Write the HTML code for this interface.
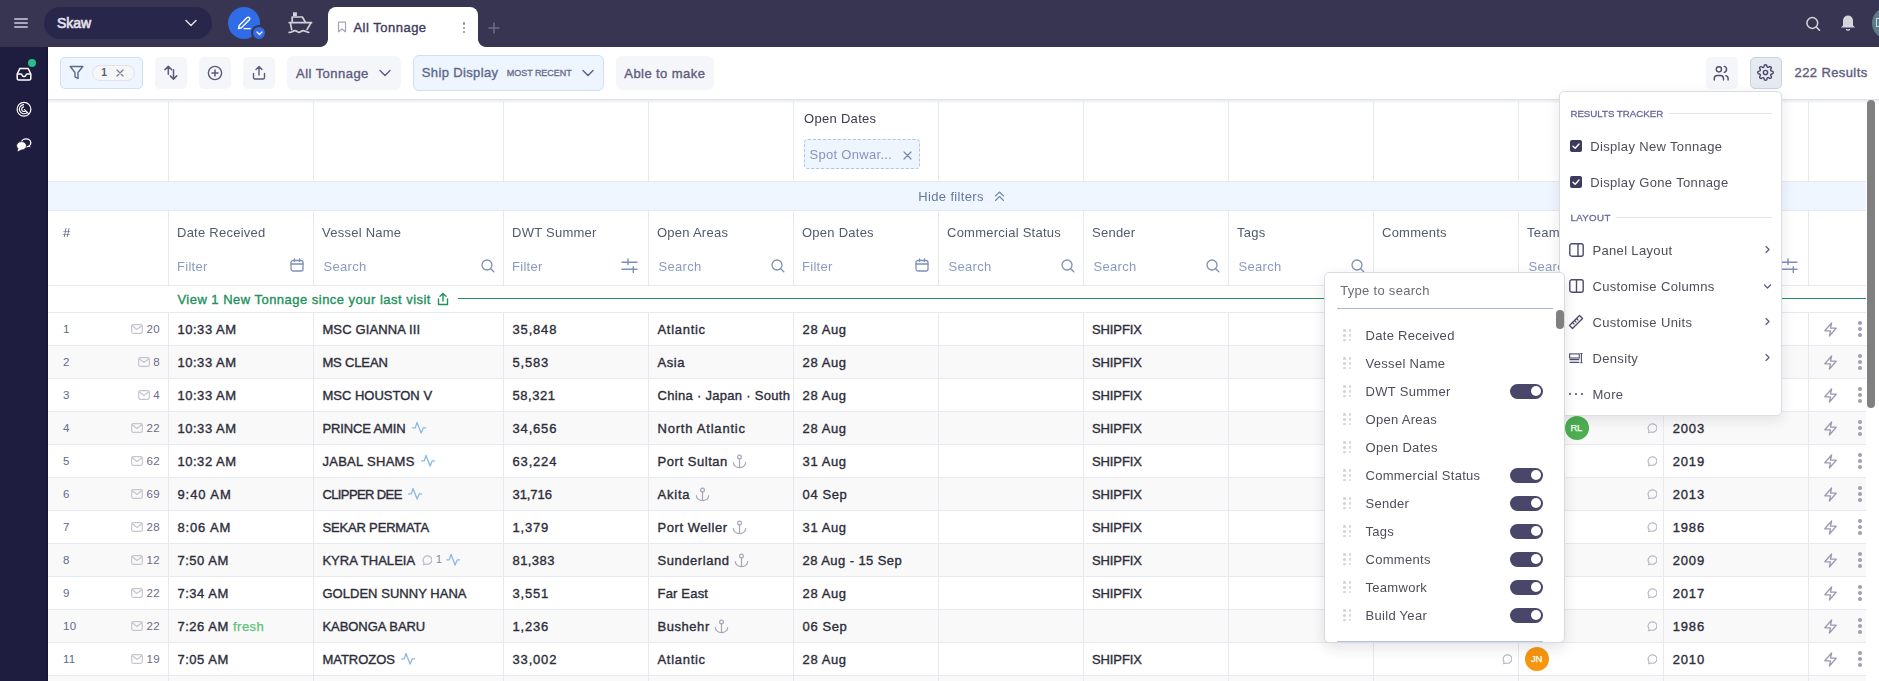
<!DOCTYPE html><html><head><meta charset="utf-8"><style>
html,body{margin:0;padding:0;}
body{width:1879px;height:681px;overflow:hidden;position:relative;background:#fff;font-family:"Liberation Sans", sans-serif;}
.t{position:absolute;white-space:nowrap;}
</style></head><body>
<div style="position:absolute;left:0px;top:0px;width:1879px;height:47px;background:#383552"></div>
<div style="position:absolute;left:14px;top:18px;width:14px;height:2px;background:#a9a7bb;border-radius:1px"></div>
<div style="position:absolute;left:14px;top:22px;width:14px;height:2px;background:#a9a7bb;border-radius:1px"></div>
<div style="position:absolute;left:14px;top:26px;width:14px;height:2px;background:#a9a7bb;border-radius:1px"></div>
<div style="position:absolute;left:44px;top:7px;width:168px;height:32px;background:#28264a;border-radius:16px"></div>
<div class="t" style="left:57px;top:16.35px;font-size:14px;line-height:14px;font-weight:400;color:#e2e2ea;letter-spacing:-0.05px;-webkit-text-stroke:0.65px #e2e2ea;">Skaw</div>
<svg style="position:absolute;left:185px;top:19px;" width="12" height="8" viewBox="0 0 12 8" fill="none"><path d="M1 1.5 L6 6.5 L11 1.5" stroke="#e0e0e8" stroke-width="1.5" stroke-linecap="round" stroke-linejoin="round"/></svg>
<div style="position:absolute;left:228px;top:7px;width:32px;height:32px;background:#2f6ce5;border-radius:50%"></div>
<svg style="position:absolute;left:236px;top:15px;" width="16" height="16" viewBox="0 0 16 16" fill="none"><path d="M2.5 13.5 L3.2 10.6 L11.2 2.6 a1.4 1.4 0 0 1 2 0 l0.2 0.2 a1.4 1.4 0 0 1 0 2 L5.4 12.8 Z" stroke="#fff" stroke-width="1.4" stroke-linejoin="round"/><path d="M8 13.6 L14.3 13.6" stroke="#fff" stroke-width="1.3" stroke-linecap="round"/></svg>
<div style="position:absolute;left:251px;top:25px;width:16px;height:16px;background:#2f6ce5;border-radius:50%;border:2px solid #383552;box-sizing:border-box"></div>
<svg style="position:absolute;left:255.5px;top:31px;" width="7" height="5" viewBox="0 0 7 5" fill="none"><path d="M1 1 L3.5 3.5 L6 1" stroke="#fff" stroke-width="1.2" stroke-linecap="round" stroke-linejoin="round"/></svg>
<svg style="position:absolute;left:284px;top:8px;" width="32" height="30" viewBox="0 0 32 30" fill="none"><rect x="9" y="4.3" width="3.9" height="3.9" fill="#d2d2da"/><path d="M8.2 14.3 L8.2 9 L18.4 9 L21.4 14.3" stroke="#d2d2da" stroke-width="1.7" stroke-linejoin="round"/><path d="M5.2 14.6 L27.6 14.6 M6.3 14.6 L7.7 21.6 M27 14.6 L23 21.6" stroke="#d2d2da" stroke-width="1.7" stroke-linecap="round" stroke-linejoin="round"/><path d="M5.2 24.4 C8 24.4 9 22.6 11 22.6 C13 22.6 13.5 24.4 15 24.4 C16.5 24.4 17.5 22.6 19.3 22.6 C21 22.6 22 24.3 24.8 24.3" stroke="#d2d2da" stroke-width="1.7" stroke-linecap="round"/></svg>
<div style="position:absolute;left:328px;top:7px;width:150px;height:41px;background:#fff;border-radius:8px 8px 0 0"></div>
<div style="position:absolute;left:320px;top:39px;width:8px;height:8px;background:radial-gradient(circle at 0 0, #383552 7.5px, #fff 8.3px)"></div>
<div style="position:absolute;left:478px;top:39px;width:8px;height:8px;background:radial-gradient(circle at 100% 0, #383552 7.5px, #fff 8.3px)"></div>
<svg style="position:absolute;left:337px;top:21px;" width="10" height="12" viewBox="0 0 10 12" fill="none"><path d="M1.5 1.2 L8.5 1.2 L8.5 10.8 L5 8 L1.5 10.8 Z" stroke="#a4a4b6" stroke-width="1.2" stroke-linejoin="round"/></svg>
<div class="t" style="left:353.4px;top:21.20px;font-size:13px;line-height:13px;font-weight:400;color:#3d3b5c;letter-spacing:0.5px;-webkit-text-stroke:0.36px #3d3b5c;">All Tonnage</div>
<div style="position:absolute;left:462.8px;top:22.3px;width:2.5px;height:2.5px;background:#7d8fb5;border-radius:50%"></div>
<div style="position:absolute;left:462.8px;top:26.6px;width:2.5px;height:2.5px;background:#7d8fb5;border-radius:50%"></div>
<div style="position:absolute;left:462.8px;top:30.900000000000002px;width:2.5px;height:2.5px;background:#7d8fb5;border-radius:50%"></div>
<svg style="position:absolute;left:488px;top:22px;" width="12" height="12" viewBox="0 0 12 12" fill="none"><path d="M6 1 L6 11 M1 6 L11 6" stroke="#6e6c88" stroke-width="1.5" stroke-linecap="round"/></svg>
<svg style="position:absolute;left:1804px;top:15px;" width="18" height="18" viewBox="0 0 18 18" fill="none"><circle cx="8.3" cy="8" r="5.4" stroke="#d6d6de" stroke-width="1.5"/><path d="M12.3 12 L15.5 15.2" stroke="#d6d6de" stroke-width="1.6" stroke-linecap="round"/></svg>
<svg style="position:absolute;left:1840px;top:13.2px;" width="16" height="18" viewBox="0 0 16 18" fill="none"><path d="M3 12.5 L3 7.5 a5 5 0 0 1 10 0 L13 12.5 L15 14.5 L1 14.5 Z" fill="#d4d4dc"/><path d="M6.3 16 a1.8 1.8 0 0 0 3.4 0" stroke="#d4d4dc" stroke-width="1.2"/></svg>
<div style="position:absolute;left:1872px;top:7px;width:32px;height:32px;background:#5e7b87;border-radius:50%"></div>
<div style="position:absolute;left:1876px;top:18px;width:6px;height:9px;border:1.5px solid #bfe0ee;border-right:none;box-sizing:border-box"></div>
<div style="position:absolute;left:0px;top:47px;width:48px;height:634px;background:#1e1d40"></div>
<div style="position:absolute;left:46px;top:47px;width:2px;height:634px;background:#18173a"></div>
<svg style="position:absolute;left:16px;top:67px;" width="17" height="15" viewBox="0 0 17 15" fill="none"><path d="M1.2 7 L3.8 1.6 L12.2 1.6 L14.8 7 L14.8 11.6 Q14.8 12.9 13.5 12.9 L2.5 12.9 Q1.2 12.9 1.2 11.6 Z" stroke="#fff" stroke-width="1.5" stroke-linejoin="round"/><path d="M1.2 7 L4.8 7 Q5.6 7 6 7.8 L6.4 8.6 Q6.8 9.4 7.6 9.4 L8.4 9.4 Q9.2 9.4 9.6 8.6 L10 7.8 Q10.4 7 11.2 7 L14.8 7" stroke="#fff" stroke-width="1.5" stroke-linejoin="round"/></svg>
<div style="position:absolute;left:28px;top:59px;width:8px;height:8px;background:#27bd8b;border-radius:50%"></div>
<svg style="position:absolute;left:15px;top:100px;" width="18" height="18" viewBox="0 0 18 18" fill="none"><circle cx="9" cy="9.2" r="6.9" stroke="#fff" stroke-width="1.2"/><path d="M9 4.6 A4.6 4.6 0 1 0 12.3 12.4" stroke="#fff" stroke-width="1.1"/><path d="M9 6.9 A2.3 2.3 0 1 0 10.6 10.8" stroke="#fff" stroke-width="1.1"/><path d="M9 9.2 L13.8 13.9" stroke="#fff" stroke-width="1.1"/></svg>
<svg style="position:absolute;left:15px;top:136px;" width="18" height="17" viewBox="0 0 18 17" fill="none"><ellipse cx="11.1" cy="6.8" rx="4.7" ry="4" stroke="#fff" stroke-width="1.3"/><path d="M14.2 9.6 L15.8 11.2 L12.6 10.6" fill="#fff"/><ellipse cx="6.5" cy="9.8" rx="4.9" ry="4.2" fill="#fff" stroke="#1e1d40" stroke-width="0.8"/><path d="M3.2 12.6 L2.6 15.6 L6.6 13.6 Z" fill="#fff"/></svg>
<div style="position:absolute;left:48px;top:99px;width:1831px;height:1px;background:#e0e3ea"></div>
<div style="position:absolute;left:48px;top:100px;width:1831px;height:3px;background:linear-gradient(#e8ebf0,#fafbfc)"></div>
<div style="position:absolute;left:60px;top:57px;width:83px;height:32px;background:#eef5fe;border:1px solid #cfe0f6;border-radius:5px;box-sizing:border-box"></div>
<svg style="position:absolute;left:69px;top:65px;" width="15" height="15" viewBox="0 0 15 15" fill="none"><path d="M1.2 1.5 L13.8 1.5 L9 7.5 L9 13.5 L6 11.8 L6 7.5 Z" stroke="#5d6b88" stroke-width="1.4" stroke-linejoin="round"/></svg>
<div style="position:absolute;left:92px;top:65px;width:43px;height:16px;background:#f6f6f9;border:1px solid #e2e2e8;border-radius:8px;box-sizing:border-box"></div>
<div class="t" style="left:101.2px;top:68.08px;font-size:10.3px;line-height:10.3px;font-weight:700;color:#5c5c78;letter-spacing:0px;">1</div>
<svg style="position:absolute;left:116px;top:69px;" width="8" height="8" viewBox="0 0 8 8" fill="none"><path d="M1 1 L7 7 M7 1 L1 7" stroke="#7a7a92" stroke-width="1.2" stroke-linecap="round"/></svg>
<div style="position:absolute;left:155px;top:57px;width:32px;height:32px;background:#f5f6fa;border-radius:5px"></div>
<div style="position:absolute;left:199px;top:57px;width:32px;height:32px;background:#f5f6fa;border-radius:5px"></div>
<div style="position:absolute;left:243px;top:57px;width:32px;height:32px;background:#f5f6fa;border-radius:5px"></div>
<svg style="position:absolute;left:160px;top:64px;" width="20" height="18" viewBox="0 0 20 18" fill="none"><path d="M8.3 10.3 L8.3 2.4 M5 5.6 L8.3 2.3 L11.6 5.6" stroke="#5a5a7a" stroke-width="1.5" stroke-linecap="round" stroke-linejoin="round"/><path d="M13.5 5.8 L13.5 15.1 M10.3 11.9 L13.5 15.1 L16.7 11.9" stroke="#5a5a7a" stroke-width="1.5" stroke-linecap="round" stroke-linejoin="round"/></svg>
<svg style="position:absolute;left:207px;top:65px;" width="16" height="16" viewBox="0 0 16 16" fill="none"><circle cx="8" cy="8" r="6.6" stroke="#5a5a7a" stroke-width="1.4"/><path d="M8 5 L8 11 M5 8 L11 8" stroke="#5a5a7a" stroke-width="1.5" stroke-linecap="round"/></svg>
<svg style="position:absolute;left:251px;top:65px;" width="16" height="16" viewBox="0 0 16 16" fill="none"><path d="M2.5 8.5 L2.5 12.5 Q2.5 14 4 14 L12 14 Q13.5 14 13.5 12.5 L13.5 8.5" stroke="#5a5a7a" stroke-width="1.4" stroke-linecap="round" stroke-linejoin="round"/><path d="M8 10 L8 1.5 M5 4.5 L8 1.5 L11 4.5" stroke="#5a5a7a" stroke-width="1.4" stroke-linecap="round" stroke-linejoin="round"/></svg>
<div style="position:absolute;left:287px;top:56px;width:114px;height:34px;background:#f5f6fa;border-radius:6px"></div>
<div class="t" style="left:296px;top:67.00px;font-size:13px;line-height:13px;font-weight:400;color:#5e5c7e;letter-spacing:0.46px;-webkit-text-stroke:0.36px #5e5c7e;">All Tonnage</div>
<svg style="position:absolute;left:379px;top:69px;" width="12" height="8" viewBox="0 0 12 8" fill="none"><path d="M1 1.5 L6 6.5 L11 1.5" stroke="#5e5c7e" stroke-width="1.4" stroke-linecap="round" stroke-linejoin="round"/></svg>
<div style="position:absolute;left:413px;top:55px;width:191px;height:36px;background:#eef5fe;border:1px solid #cfe0f6;border-radius:6px;box-sizing:border-box"></div>
<div class="t" style="left:421.8px;top:65.70px;font-size:13px;line-height:13px;font-weight:400;color:#5d6a8c;letter-spacing:0.36px;-webkit-text-stroke:0.36px #5d6a8c;">Ship Display</div>
<div class="t" style="left:506.8px;top:69.48px;font-size:9px;line-height:9px;font-weight:400;color:#6b6a88;letter-spacing:-0.05px;-webkit-text-stroke:0.3px #6b6a88;">MOST RECENT</div>
<svg style="position:absolute;left:582px;top:69px;" width="12" height="8" viewBox="0 0 12 8" fill="none"><path d="M1 1.5 L6 6.5 L11 1.5" stroke="#5e5c7e" stroke-width="1.4" stroke-linecap="round" stroke-linejoin="round"/></svg>
<div style="position:absolute;left:616px;top:56px;width:98px;height:34px;background:#f5f6fa;border-radius:6px"></div>
<div class="t" style="left:624.3px;top:67.00px;font-size:13px;line-height:13px;font-weight:400;color:#5e5c7e;letter-spacing:0.43px;-webkit-text-stroke:0.36px #5e5c7e;">Able to make</div>
<div style="position:absolute;left:1706px;top:57px;width:32px;height:32px;background:#f5f6fa;border-radius:5px"></div>
<svg style="position:absolute;left:1712px;top:63.6px" width="18.4" height="18.4" viewBox="0 0 24 24" fill="none" stroke="#4f4d70" stroke-width="1.85" stroke-linecap="round" stroke-linejoin="round"><circle cx="9" cy="7" r="3.4"/><path d="M3 21v-2a4 4 0 0 1 4 -4h4a4 4 0 0 1 4 4v2"/><path d="M16 3.13a4 4 0 0 1 0 7.75"/><path d="M21 21v-2a4 4 0 0 0 -3 -3.85"/></svg>
<div style="position:absolute;left:1750px;top:57px;width:32px;height:32px;background:#e7eaf0;border:1px solid #cad3e0;border-radius:5px;box-sizing:border-box"></div>
<svg style="position:absolute;left:1757px;top:64.2px" width="17" height="17" viewBox="0 0 24 24" fill="none" stroke="#4a4868" stroke-width="2" stroke-linecap="round" stroke-linejoin="round"><circle cx="12" cy="12" r="3"/><path d="M19.4 15a1.65 1.65 0 0 0 .33 1.82l.06.06a2 2 0 0 1 0 2.83 2 2 0 0 1-2.83 0l-.06-.06a1.65 1.65 0 0 0-1.82-.33 1.65 1.65 0 0 0-1 1.51V21a2 2 0 0 1-2 2 2 2 0 0 1-2-2v-.09A1.65 1.65 0 0 0 9 19.4a1.65 1.65 0 0 0-1.82.33l-.06.06a2 2 0 0 1-2.83 0 2 2 0 0 1 0-2.83l.06-.06a1.65 1.65 0 0 0 .33-1.82 1.65 1.65 0 0 0-1.51-1H3a2 2 0 0 1-2-2 2 2 0 0 1 2-2h.09A1.65 1.65 0 0 0 4.6 9a1.65 1.65 0 0 0-.33-1.82l-.06-.06a2 2 0 0 1 0-2.83 2 2 0 0 1 2.83 0l.06.06a1.65 1.65 0 0 0 1.82.33H9a1.65 1.65 0 0 0 1-1.51V3a2 2 0 0 1 2-2 2 2 0 0 1 2 2v.09a1.65 1.65 0 0 0 1 1.51 1.65 1.65 0 0 0 1.82-.33l.06-.06a2 2 0 0 1 2.83 0 2 2 0 0 1 0 2.83l-.06.06a1.65 1.65 0 0 0-.33 1.82V9a1.65 1.65 0 0 0 1.51 1H21a2 2 0 0 1 2 2 2 2 0 0 1-2 2h-.09a1.65 1.65 0 0 0-1.51 1z"/></svg>
<div class="t" style="left:1794.6px;top:66.20px;font-size:13px;line-height:13px;font-weight:400;color:#5e5c7e;letter-spacing:0.39px;-webkit-text-stroke:0.36px #5e5c7e;">222 Results</div>
<div style="position:absolute;left:48px;top:345px;width:1818px;height:33px;background:#f9f9f9"></div>
<div style="position:absolute;left:48px;top:411px;width:1818px;height:33px;background:#f9f9f9"></div>
<div style="position:absolute;left:48px;top:477px;width:1818px;height:33px;background:#f9f9f9"></div>
<div style="position:absolute;left:48px;top:543px;width:1818px;height:33px;background:#f9f9f9"></div>
<div style="position:absolute;left:48px;top:609px;width:1818px;height:33px;background:#f9f9f9"></div>
<div style="position:absolute;left:48px;top:675px;width:1818px;height:33px;background:#f9f9f9"></div>
<div style="position:absolute;left:48px;top:181px;width:1818px;height:1px;background:#e6e9ef"></div>
<div style="position:absolute;left:48px;top:182px;width:1818px;height:28px;background:#eff6ff"></div>
<div style="position:absolute;left:48px;top:210px;width:1818px;height:1px;background:#e6e9ef"></div>
<div style="position:absolute;left:48px;top:285px;width:1818px;height:1px;background:#e6e9ef"></div>
<div style="position:absolute;left:48px;top:312px;width:1818px;height:1px;background:#e6e9ef"></div>
<div style="position:absolute;left:48px;top:345px;width:1818px;height:1px;background:#e6e9ef"></div>
<div style="position:absolute;left:48px;top:378px;width:1818px;height:1px;background:#e6e9ef"></div>
<div style="position:absolute;left:48px;top:411px;width:1818px;height:1px;background:#e6e9ef"></div>
<div style="position:absolute;left:48px;top:444px;width:1818px;height:1px;background:#e6e9ef"></div>
<div style="position:absolute;left:48px;top:477px;width:1818px;height:1px;background:#e6e9ef"></div>
<div style="position:absolute;left:48px;top:510px;width:1818px;height:1px;background:#e6e9ef"></div>
<div style="position:absolute;left:48px;top:543px;width:1818px;height:1px;background:#e6e9ef"></div>
<div style="position:absolute;left:48px;top:576px;width:1818px;height:1px;background:#e6e9ef"></div>
<div style="position:absolute;left:48px;top:609px;width:1818px;height:1px;background:#e6e9ef"></div>
<div style="position:absolute;left:48px;top:642px;width:1818px;height:1px;background:#e6e9ef"></div>
<div style="position:absolute;left:48px;top:675px;width:1818px;height:1px;background:#e6e9ef"></div>
<div style="position:absolute;left:168px;top:99px;width:1px;height:82px;background:#e6e9ef"></div>
<div style="position:absolute;left:168px;top:211px;width:1px;height:470px;background:#e6e9ef"></div>
<div style="position:absolute;left:313px;top:99px;width:1px;height:82px;background:#e6e9ef"></div>
<div style="position:absolute;left:313px;top:211px;width:1px;height:470px;background:#e6e9ef"></div>
<div style="position:absolute;left:503px;top:99px;width:1px;height:82px;background:#e6e9ef"></div>
<div style="position:absolute;left:503px;top:211px;width:1px;height:470px;background:#e6e9ef"></div>
<div style="position:absolute;left:648px;top:99px;width:1px;height:82px;background:#e6e9ef"></div>
<div style="position:absolute;left:648px;top:211px;width:1px;height:470px;background:#e6e9ef"></div>
<div style="position:absolute;left:793px;top:99px;width:1px;height:82px;background:#e6e9ef"></div>
<div style="position:absolute;left:793px;top:211px;width:1px;height:470px;background:#e6e9ef"></div>
<div style="position:absolute;left:938px;top:99px;width:1px;height:82px;background:#e6e9ef"></div>
<div style="position:absolute;left:938px;top:211px;width:1px;height:470px;background:#e6e9ef"></div>
<div style="position:absolute;left:1083px;top:99px;width:1px;height:82px;background:#e6e9ef"></div>
<div style="position:absolute;left:1083px;top:211px;width:1px;height:470px;background:#e6e9ef"></div>
<div style="position:absolute;left:1228px;top:99px;width:1px;height:82px;background:#e6e9ef"></div>
<div style="position:absolute;left:1228px;top:211px;width:1px;height:470px;background:#e6e9ef"></div>
<div style="position:absolute;left:1373px;top:99px;width:1px;height:82px;background:#e6e9ef"></div>
<div style="position:absolute;left:1373px;top:211px;width:1px;height:470px;background:#e6e9ef"></div>
<div style="position:absolute;left:1518px;top:99px;width:1px;height:82px;background:#e6e9ef"></div>
<div style="position:absolute;left:1518px;top:211px;width:1px;height:470px;background:#e6e9ef"></div>
<div style="position:absolute;left:1663px;top:99px;width:1px;height:82px;background:#e6e9ef"></div>
<div style="position:absolute;left:1663px;top:211px;width:1px;height:470px;background:#e6e9ef"></div>
<div style="position:absolute;left:1808px;top:99px;width:1px;height:82px;background:#e6e9ef"></div>
<div style="position:absolute;left:1808px;top:211px;width:1px;height:470px;background:#e6e9ef"></div>
<div style="position:absolute;left:48px;top:286px;width:1818px;height:26px;background:#fff"></div>
<div style="position:absolute;left:0;top:0;width:1879px;height:285px;will-change:transform">
<div class="t" style="left:804px;top:111.80px;font-size:13px;line-height:13px;font-weight:400;color:#3b3a4e;letter-spacing:0.3px;">Open Dates</div>
<div style="position:absolute;left:804px;top:139px;width:116px;height:30px;background:#eef5fd;border:1px dashed #a9c7ea;border-radius:4px;box-sizing:border-box"></div>
<div class="t" style="left:809.5px;top:147.80px;font-size:13px;line-height:13px;font-weight:400;color:#8496bd;letter-spacing:0.3px;">Spot Onwar...</div>
<svg style="position:absolute;left:903px;top:151px;" width="9" height="9" viewBox="0 0 9 9" fill="none"><path d="M1 1 L8 8 M8 1 L1 8" stroke="#7888ad" stroke-width="1.2" stroke-linecap="round"/></svg>
<div class="t" style="left:918.3px;top:189.80px;font-size:13px;line-height:13px;font-weight:400;color:#6478a0;letter-spacing:0.35px;">Hide filters</div>
<svg style="position:absolute;left:994px;top:190px;" width="11" height="12" viewBox="0 0 11 12" fill="none"><path d="M1.5 6 L5.5 2 L9.5 6 M1.5 10.5 L5.5 6.5 L9.5 10.5" stroke="#7487ab" stroke-width="1.1" stroke-linecap="round" stroke-linejoin="round"/></svg>
<div class="t" style="left:63px;top:226.30px;font-size:13px;line-height:13px;font-weight:400;color:#525b6b;letter-spacing:0.25px;">#</div>
<div class="t" style="left:177px;top:226.30px;font-size:13px;line-height:13px;font-weight:400;color:#525b6b;letter-spacing:0.25px;">Date Received</div>
<div class="t" style="left:322px;top:226.30px;font-size:13px;line-height:13px;font-weight:400;color:#525b6b;letter-spacing:0.25px;">Vessel Name</div>
<div class="t" style="left:512px;top:226.30px;font-size:13px;line-height:13px;font-weight:400;color:#525b6b;letter-spacing:0.25px;">DWT Summer</div>
<div class="t" style="left:657px;top:226.30px;font-size:13px;line-height:13px;font-weight:400;color:#525b6b;letter-spacing:0.25px;">Open Areas</div>
<div class="t" style="left:802px;top:226.30px;font-size:13px;line-height:13px;font-weight:400;color:#525b6b;letter-spacing:0.25px;">Open Dates</div>
<div class="t" style="left:947px;top:226.30px;font-size:13px;line-height:13px;font-weight:400;color:#525b6b;letter-spacing:0.25px;">Commercial Status</div>
<div class="t" style="left:1092px;top:226.30px;font-size:13px;line-height:13px;font-weight:400;color:#525b6b;letter-spacing:0.25px;">Sender</div>
<div class="t" style="left:1237px;top:226.30px;font-size:13px;line-height:13px;font-weight:400;color:#525b6b;letter-spacing:0.25px;">Tags</div>
<div class="t" style="left:1382px;top:226.30px;font-size:13px;line-height:13px;font-weight:400;color:#525b6b;letter-spacing:0.25px;">Comments</div>
<div class="t" style="left:1527px;top:226.30px;font-size:13px;line-height:13px;font-weight:400;color:#525b6b;letter-spacing:0.25px;">Teamwork</div>
<div class="t" style="left:1672px;top:226.30px;font-size:13px;line-height:13px;font-weight:400;color:#525b6b;letter-spacing:0.25px;">Build Year</div>
<div class="t" style="left:177px;top:260.30px;font-size:13px;line-height:13px;font-weight:400;color:#8b9bc0;letter-spacing:0.3px;">Filter</div>
<svg style="position:absolute;left:290px;top:257.6px;" width="14" height="14" viewBox="0 0 14 14" fill="none"><rect x="1" y="2.5" width="12" height="10.5" rx="2" stroke="#7f90b6" stroke-width="1.3"/><path d="M1 6 L13 6 M4.5 1 L4.5 3.5 M9.5 1 L9.5 3.5" stroke="#7f90b6" stroke-width="1.3" stroke-linecap="round"/></svg>
<div class="t" style="left:323.5px;top:259.70px;font-size:13px;line-height:13px;font-weight:400;color:#8b9bc0;letter-spacing:0.3px;">Search</div>
<svg style="position:absolute;left:481px;top:259px;" width="14" height="14" viewBox="0 0 14 14" fill="none"><circle cx="6" cy="6" r="5" stroke="#7f90b6" stroke-width="1.3"/><path d="M9.7 9.7 L12.8 12.8" stroke="#7f90b6" stroke-width="1.3" stroke-linecap="round"/></svg>
<div class="t" style="left:512px;top:260.30px;font-size:13px;line-height:13px;font-weight:400;color:#8b9bc0;letter-spacing:0.3px;">Filter</div>
<svg style="position:absolute;left:621px;top:258px;" width="17" height="15" viewBox="0 0 17 15" fill="none"><path d="M1 4.3 L16 4.3 M1 11.2 L16 11.2 M7 1 L7 6.5 M12.3 8.8 L12.3 14.4" stroke="#7f90b6" stroke-width="1.4" stroke-linecap="round"/></svg>
<div class="t" style="left:658.5px;top:259.70px;font-size:13px;line-height:13px;font-weight:400;color:#8b9bc0;letter-spacing:0.3px;">Search</div>
<svg style="position:absolute;left:771px;top:259px;" width="14" height="14" viewBox="0 0 14 14" fill="none"><circle cx="6" cy="6" r="5" stroke="#7f90b6" stroke-width="1.3"/><path d="M9.7 9.7 L12.8 12.8" stroke="#7f90b6" stroke-width="1.3" stroke-linecap="round"/></svg>
<div class="t" style="left:802px;top:260.30px;font-size:13px;line-height:13px;font-weight:400;color:#8b9bc0;letter-spacing:0.3px;">Filter</div>
<svg style="position:absolute;left:915px;top:257.6px;" width="14" height="14" viewBox="0 0 14 14" fill="none"><rect x="1" y="2.5" width="12" height="10.5" rx="2" stroke="#7f90b6" stroke-width="1.3"/><path d="M1 6 L13 6 M4.5 1 L4.5 3.5 M9.5 1 L9.5 3.5" stroke="#7f90b6" stroke-width="1.3" stroke-linecap="round"/></svg>
<div class="t" style="left:948.5px;top:259.70px;font-size:13px;line-height:13px;font-weight:400;color:#8b9bc0;letter-spacing:0.3px;">Search</div>
<svg style="position:absolute;left:1061px;top:259px;" width="14" height="14" viewBox="0 0 14 14" fill="none"><circle cx="6" cy="6" r="5" stroke="#7f90b6" stroke-width="1.3"/><path d="M9.7 9.7 L12.8 12.8" stroke="#7f90b6" stroke-width="1.3" stroke-linecap="round"/></svg>
<div class="t" style="left:1093.5px;top:259.70px;font-size:13px;line-height:13px;font-weight:400;color:#8b9bc0;letter-spacing:0.3px;">Search</div>
<svg style="position:absolute;left:1206px;top:259px;" width="14" height="14" viewBox="0 0 14 14" fill="none"><circle cx="6" cy="6" r="5" stroke="#7f90b6" stroke-width="1.3"/><path d="M9.7 9.7 L12.8 12.8" stroke="#7f90b6" stroke-width="1.3" stroke-linecap="round"/></svg>
<div class="t" style="left:1238.5px;top:259.70px;font-size:13px;line-height:13px;font-weight:400;color:#8b9bc0;letter-spacing:0.3px;">Search</div>
<svg style="position:absolute;left:1351px;top:259px;" width="14" height="14" viewBox="0 0 14 14" fill="none"><circle cx="6" cy="6" r="5" stroke="#7f90b6" stroke-width="1.3"/><path d="M9.7 9.7 L12.8 12.8" stroke="#7f90b6" stroke-width="1.3" stroke-linecap="round"/></svg>
<div class="t" style="left:1528.5px;top:259.70px;font-size:13px;line-height:13px;font-weight:400;color:#8b9bc0;letter-spacing:0.3px;">Search</div>
<svg style="position:absolute;left:1641px;top:259px;" width="14" height="14" viewBox="0 0 14 14" fill="none"><circle cx="6" cy="6" r="5" stroke="#7f90b6" stroke-width="1.3"/><path d="M9.7 9.7 L12.8 12.8" stroke="#7f90b6" stroke-width="1.3" stroke-linecap="round"/></svg>
<div class="t" style="left:1672px;top:260.30px;font-size:13px;line-height:13px;font-weight:400;color:#8b9bc0;letter-spacing:0.3px;">Filter</div>
<svg style="position:absolute;left:1781px;top:258px;" width="17" height="15" viewBox="0 0 17 15" fill="none"><path d="M1 4.3 L16 4.3 M1 11.2 L16 11.2 M7 1 L7 6.5 M12.3 8.8 L12.3 14.4" stroke="#7f90b6" stroke-width="1.4" stroke-linecap="round"/></svg>
</div>
<div class="t" style="left:177.4px;top:292.90px;font-size:13px;line-height:13px;font-weight:400;color:#23915c;letter-spacing:0.48px;-webkit-text-stroke:0.36px #23915c;">View 1 New Tonnage since your last visit</div>
<svg style="position:absolute;left:437px;top:292px;" width="12" height="14" viewBox="0 0 12 14" fill="none"><path d="M1.5 7 L1.5 12.5 L10.5 12.5 L10.5 7" stroke="#23915c" stroke-width="1.4" stroke-linecap="round" stroke-linejoin="round"/><path d="M6 9 L6 1.5 M3 4.3 L6 1.5 L9 4.3" stroke="#23915c" stroke-width="1.4" stroke-linecap="round" stroke-linejoin="round"/></svg>
<div style="position:absolute;left:458px;top:298px;width:1408px;height:1.3px;background:#23915c"></div>
<div class="t" style="left:63px;top:324.27px;font-size:11.5px;line-height:11.5px;font-weight:400;color:#5e6b8b;letter-spacing:0px;">1</div>
<div class="t" style="left:146.41875px;top:324.27px;font-size:11.5px;line-height:11.5px;font-weight:400;color:#6a6a85;letter-spacing:0.4px;">20</div>
<svg style="position:absolute;left:131.41875px;top:324.3px;" width="12" height="10" viewBox="0 0 12 10" fill="none"><rect x="0.7" y="0.7" width="10.6" height="8.6" rx="1.5" stroke="#c5c5d0" stroke-width="1.2"/><path d="M1 1.5 L6 5.5 L11 1.5" stroke="#c5c5d0" stroke-width="1.2" stroke-linejoin="round"/></svg>
<div class="t" style="left:177.4px;top:322.60px;font-size:13px;line-height:13px;font-weight:400;color:#2d2d3a;letter-spacing:0.55px;-webkit-text-stroke:0.36px #2d2d3a;">10:33 AM</div>
<div class="t" style="left:322.4px;top:322.60px;font-size:13px;line-height:13px;font-weight:400;color:#2d2d3a;letter-spacing:0.13px;-webkit-text-stroke:0.36px #2d2d3a;">MSC GIANNA III</div>
<div class="t" style="left:512.6px;top:322.60px;font-size:13px;line-height:13px;font-weight:400;color:#2d2d3a;letter-spacing:0.8px;-webkit-text-stroke:0.36px #2d2d3a;">35,848</div>
<div style="position:absolute;left:648px;top:312px;width:145px;height:33px;overflow:hidden">
<div class="t" style="left:9.5px;top:10.60px;font-size:13px;line-height:13px;font-weight:400;color:#2d2d3a;letter-spacing:0.7px;-webkit-text-stroke:0.36px #2d2d3a;">Atlantic</div>
</div>
<div class="t" style="left:802.6px;top:322.60px;font-size:13px;line-height:13px;font-weight:400;color:#2d2d3a;letter-spacing:0.6px;-webkit-text-stroke:0.36px #2d2d3a;">28 Aug</div>
<div class="t" style="left:1092px;top:322.60px;font-size:13px;line-height:13px;font-weight:400;color:#2d2d3a;letter-spacing:-0.1px;-webkit-text-stroke:0.36px #2d2d3a;">SHIPFIX</div>
<svg style="position:absolute;left:1645.8px;top:323.5px;" width="11" height="11" viewBox="0 0 11 11" fill="none"><path d="M2.6 9.8 L3 7.6 A4.4 4.2 0 1 1 5 9 Z" stroke="#b5b5c6" stroke-width="1.1" stroke-linejoin="round"/></svg>
<div class="t" style="left:63px;top:357.27px;font-size:11.5px;line-height:11.5px;font-weight:400;color:#5e6b8b;letter-spacing:0px;">2</div>
<div class="t" style="left:153.209375px;top:357.27px;font-size:11.5px;line-height:11.5px;font-weight:400;color:#6a6a85;letter-spacing:0.4px;">8</div>
<svg style="position:absolute;left:138.209375px;top:357.3px;" width="12" height="10" viewBox="0 0 12 10" fill="none"><rect x="0.7" y="0.7" width="10.6" height="8.6" rx="1.5" stroke="#c5c5d0" stroke-width="1.2"/><path d="M1 1.5 L6 5.5 L11 1.5" stroke="#c5c5d0" stroke-width="1.2" stroke-linejoin="round"/></svg>
<div class="t" style="left:177.4px;top:355.60px;font-size:13px;line-height:13px;font-weight:400;color:#2d2d3a;letter-spacing:0.55px;-webkit-text-stroke:0.36px #2d2d3a;">10:33 AM</div>
<div class="t" style="left:322.4px;top:355.60px;font-size:13px;line-height:13px;font-weight:400;color:#2d2d3a;letter-spacing:-0.15px;-webkit-text-stroke:0.36px #2d2d3a;">MS CLEAN</div>
<div class="t" style="left:512.6px;top:355.60px;font-size:13px;line-height:13px;font-weight:400;color:#2d2d3a;letter-spacing:0.8px;-webkit-text-stroke:0.36px #2d2d3a;">5,583</div>
<div style="position:absolute;left:648px;top:345px;width:145px;height:33px;overflow:hidden">
<div class="t" style="left:9.5px;top:10.60px;font-size:13px;line-height:13px;font-weight:400;color:#2d2d3a;letter-spacing:0.55px;-webkit-text-stroke:0.36px #2d2d3a;">Asia</div>
</div>
<div class="t" style="left:802.6px;top:355.60px;font-size:13px;line-height:13px;font-weight:400;color:#2d2d3a;letter-spacing:0.6px;-webkit-text-stroke:0.36px #2d2d3a;">28 Aug</div>
<div class="t" style="left:1092px;top:355.60px;font-size:13px;line-height:13px;font-weight:400;color:#2d2d3a;letter-spacing:-0.1px;-webkit-text-stroke:0.36px #2d2d3a;">SHIPFIX</div>
<svg style="position:absolute;left:1645.8px;top:356.5px;" width="11" height="11" viewBox="0 0 11 11" fill="none"><path d="M2.6 9.8 L3 7.6 A4.4 4.2 0 1 1 5 9 Z" stroke="#b5b5c6" stroke-width="1.1" stroke-linejoin="round"/></svg>
<div class="t" style="left:63px;top:390.27px;font-size:11.5px;line-height:11.5px;font-weight:400;color:#5e6b8b;letter-spacing:0px;">3</div>
<div class="t" style="left:153.209375px;top:390.27px;font-size:11.5px;line-height:11.5px;font-weight:400;color:#6a6a85;letter-spacing:0.4px;">4</div>
<svg style="position:absolute;left:138.209375px;top:390.3px;" width="12" height="10" viewBox="0 0 12 10" fill="none"><rect x="0.7" y="0.7" width="10.6" height="8.6" rx="1.5" stroke="#c5c5d0" stroke-width="1.2"/><path d="M1 1.5 L6 5.5 L11 1.5" stroke="#c5c5d0" stroke-width="1.2" stroke-linejoin="round"/></svg>
<div class="t" style="left:177.4px;top:388.60px;font-size:13px;line-height:13px;font-weight:400;color:#2d2d3a;letter-spacing:0.55px;-webkit-text-stroke:0.36px #2d2d3a;">10:33 AM</div>
<div class="t" style="left:322.4px;top:388.60px;font-size:13px;line-height:13px;font-weight:400;color:#2d2d3a;letter-spacing:0.01px;-webkit-text-stroke:0.36px #2d2d3a;">MSC HOUSTON V</div>
<div class="t" style="left:512.6px;top:388.60px;font-size:13px;line-height:13px;font-weight:400;color:#2d2d3a;letter-spacing:0.5px;-webkit-text-stroke:0.36px #2d2d3a;">58,321</div>
<div style="position:absolute;left:648px;top:378px;width:145px;height:33px;overflow:hidden">
<div class="t" style="left:9.5px;top:10.60px;font-size:13px;line-height:13px;font-weight:400;color:#2d2d3a;letter-spacing:0.3px;-webkit-text-stroke:0.36px #2d2d3a;">China · Japan · South Korea</div>
</div>
<div class="t" style="left:802.6px;top:388.60px;font-size:13px;line-height:13px;font-weight:400;color:#2d2d3a;letter-spacing:0.6px;-webkit-text-stroke:0.36px #2d2d3a;">28 Aug</div>
<div class="t" style="left:1092px;top:388.60px;font-size:13px;line-height:13px;font-weight:400;color:#2d2d3a;letter-spacing:-0.1px;-webkit-text-stroke:0.36px #2d2d3a;">SHIPFIX</div>
<svg style="position:absolute;left:1645.8px;top:389.5px;" width="11" height="11" viewBox="0 0 11 11" fill="none"><path d="M2.6 9.8 L3 7.6 A4.4 4.2 0 1 1 5 9 Z" stroke="#b5b5c6" stroke-width="1.1" stroke-linejoin="round"/></svg>
<div class="t" style="left:63px;top:423.27px;font-size:11.5px;line-height:11.5px;font-weight:400;color:#5e6b8b;letter-spacing:0px;">4</div>
<div class="t" style="left:146.41875px;top:423.27px;font-size:11.5px;line-height:11.5px;font-weight:400;color:#6a6a85;letter-spacing:0.4px;">22</div>
<svg style="position:absolute;left:131.41875px;top:423.3px;" width="12" height="10" viewBox="0 0 12 10" fill="none"><rect x="0.7" y="0.7" width="10.6" height="8.6" rx="1.5" stroke="#c5c5d0" stroke-width="1.2"/><path d="M1 1.5 L6 5.5 L11 1.5" stroke="#c5c5d0" stroke-width="1.2" stroke-linejoin="round"/></svg>
<div class="t" style="left:177.4px;top:421.60px;font-size:13px;line-height:13px;font-weight:400;color:#2d2d3a;letter-spacing:0.55px;-webkit-text-stroke:0.36px #2d2d3a;">10:33 AM</div>
<div class="t" style="left:322.4px;top:421.60px;font-size:13px;line-height:13px;font-weight:400;color:#2d2d3a;letter-spacing:-0.12px;-webkit-text-stroke:0.36px #2d2d3a;">PRINCE AMIN</div>
<svg style="position:absolute;left:411.595625px;top:421px;" width="15" height="13" viewBox="0 0 15 13" fill="none"><path d="M0.5 6.9 L3.3 6.9 L5 1.4 L9.1 12.1 L11.2 6.9 L13.6 6.9" stroke="#8bb9e2" stroke-width="1.3" stroke-linecap="round" stroke-linejoin="round"/></svg>
<div class="t" style="left:512.6px;top:421.60px;font-size:13px;line-height:13px;font-weight:400;color:#2d2d3a;letter-spacing:0.8px;-webkit-text-stroke:0.36px #2d2d3a;">34,656</div>
<div style="position:absolute;left:648px;top:411px;width:145px;height:33px;overflow:hidden">
<div class="t" style="left:9.5px;top:10.60px;font-size:13px;line-height:13px;font-weight:400;color:#2d2d3a;letter-spacing:0.78px;-webkit-text-stroke:0.36px #2d2d3a;">North Atlantic</div>
</div>
<div class="t" style="left:802.6px;top:421.60px;font-size:13px;line-height:13px;font-weight:400;color:#2d2d3a;letter-spacing:0.6px;-webkit-text-stroke:0.36px #2d2d3a;">28 Aug</div>
<div class="t" style="left:1092px;top:421.60px;font-size:13px;line-height:13px;font-weight:400;color:#2d2d3a;letter-spacing:-0.1px;-webkit-text-stroke:0.36px #2d2d3a;">SHIPFIX</div>
<div style="position:absolute;left:1565px;top:415.5px;width:24px;height:24px;background:#4caf50;border-radius:50%"></div>
<div class="t" style="left:1570.5px;top:423.26px;font-size:9.5px;line-height:9.5px;font-weight:400;color:#fff;letter-spacing:-0.3px;-webkit-text-stroke:0.25px #fff;">RL</div>
<svg style="position:absolute;left:1645.8px;top:422.5px;" width="11" height="11" viewBox="0 0 11 11" fill="none"><path d="M2.6 9.8 L3 7.6 A4.4 4.2 0 1 1 5 9 Z" stroke="#b5b5c6" stroke-width="1.1" stroke-linejoin="round"/></svg>
<div class="t" style="left:1672.8px;top:421.60px;font-size:13px;line-height:13px;font-weight:400;color:#2d2d3a;letter-spacing:0.8px;-webkit-text-stroke:0.36px #2d2d3a;">2003</div>
<div class="t" style="left:63px;top:456.27px;font-size:11.5px;line-height:11.5px;font-weight:400;color:#5e6b8b;letter-spacing:0px;">5</div>
<div class="t" style="left:146.41875px;top:456.27px;font-size:11.5px;line-height:11.5px;font-weight:400;color:#6a6a85;letter-spacing:0.4px;">62</div>
<svg style="position:absolute;left:131.41875px;top:456.3px;" width="12" height="10" viewBox="0 0 12 10" fill="none"><rect x="0.7" y="0.7" width="10.6" height="8.6" rx="1.5" stroke="#c5c5d0" stroke-width="1.2"/><path d="M1 1.5 L6 5.5 L11 1.5" stroke="#c5c5d0" stroke-width="1.2" stroke-linejoin="round"/></svg>
<div class="t" style="left:177.4px;top:454.60px;font-size:13px;line-height:13px;font-weight:400;color:#2d2d3a;letter-spacing:0.55px;-webkit-text-stroke:0.36px #2d2d3a;">10:32 AM</div>
<div class="t" style="left:322.4px;top:454.60px;font-size:13px;line-height:13px;font-weight:400;color:#2d2d3a;letter-spacing:0.29px;-webkit-text-stroke:0.36px #2d2d3a;">JABAL SHAMS</div>
<svg style="position:absolute;left:420.699375px;top:454px;" width="15" height="13" viewBox="0 0 15 13" fill="none"><path d="M0.5 6.9 L3.3 6.9 L5 1.4 L9.1 12.1 L11.2 6.9 L13.6 6.9" stroke="#8bb9e2" stroke-width="1.3" stroke-linecap="round" stroke-linejoin="round"/></svg>
<div class="t" style="left:512.6px;top:454.60px;font-size:13px;line-height:13px;font-weight:400;color:#2d2d3a;letter-spacing:0.8px;-webkit-text-stroke:0.36px #2d2d3a;">63,224</div>
<div style="position:absolute;left:648px;top:444px;width:145px;height:33px;overflow:hidden">
<div class="t" style="left:9.5px;top:10.60px;font-size:13px;line-height:13px;font-weight:400;color:#2d2d3a;letter-spacing:0.55px;-webkit-text-stroke:0.36px #2d2d3a;">Port Sultan</div>
<svg style="position:absolute;left:84.378125px;top:9.5px;" width="15" height="15" viewBox="0 0 15 15" fill="none"><circle cx="7.5" cy="3" r="1.9" stroke="#a6a6b8" stroke-width="1.2"/><path d="M7.5 4.9 L7.5 13.4 M1.3 8.6 A6.2 5 0 0 0 13.7 8.6" stroke="#a6a6b8" stroke-width="1.2" stroke-linecap="round"/></svg>
</div>
<div class="t" style="left:802.6px;top:454.60px;font-size:13px;line-height:13px;font-weight:400;color:#2d2d3a;letter-spacing:0.6px;-webkit-text-stroke:0.36px #2d2d3a;">31 Aug</div>
<div class="t" style="left:1092px;top:454.60px;font-size:13px;line-height:13px;font-weight:400;color:#2d2d3a;letter-spacing:-0.1px;-webkit-text-stroke:0.36px #2d2d3a;">SHIPFIX</div>
<svg style="position:absolute;left:1645.8px;top:455.5px;" width="11" height="11" viewBox="0 0 11 11" fill="none"><path d="M2.6 9.8 L3 7.6 A4.4 4.2 0 1 1 5 9 Z" stroke="#b5b5c6" stroke-width="1.1" stroke-linejoin="round"/></svg>
<div class="t" style="left:1672.8px;top:454.60px;font-size:13px;line-height:13px;font-weight:400;color:#2d2d3a;letter-spacing:0.8px;-webkit-text-stroke:0.36px #2d2d3a;">2019</div>
<div class="t" style="left:63px;top:489.27px;font-size:11.5px;line-height:11.5px;font-weight:400;color:#5e6b8b;letter-spacing:0px;">6</div>
<div class="t" style="left:146.41875px;top:489.27px;font-size:11.5px;line-height:11.5px;font-weight:400;color:#6a6a85;letter-spacing:0.4px;">69</div>
<svg style="position:absolute;left:131.41875px;top:489.3px;" width="12" height="10" viewBox="0 0 12 10" fill="none"><rect x="0.7" y="0.7" width="10.6" height="8.6" rx="1.5" stroke="#c5c5d0" stroke-width="1.2"/><path d="M1 1.5 L6 5.5 L11 1.5" stroke="#c5c5d0" stroke-width="1.2" stroke-linejoin="round"/></svg>
<div class="t" style="left:177.4px;top:487.60px;font-size:13px;line-height:13px;font-weight:400;color:#2d2d3a;letter-spacing:0.95px;-webkit-text-stroke:0.36px #2d2d3a;">9:40 AM</div>
<div class="t" style="left:322.4px;top:487.60px;font-size:13px;line-height:13px;font-weight:400;color:#2d2d3a;letter-spacing:-0.6px;-webkit-text-stroke:0.36px #2d2d3a;">CLIPPER DEE</div>
<svg style="position:absolute;left:407.78437499999995px;top:487px;" width="15" height="13" viewBox="0 0 15 13" fill="none"><path d="M0.5 6.9 L3.3 6.9 L5 1.4 L9.1 12.1 L11.2 6.9 L13.6 6.9" stroke="#8bb9e2" stroke-width="1.3" stroke-linecap="round" stroke-linejoin="round"/></svg>
<div class="t" style="left:512.6px;top:487.60px;font-size:13px;line-height:13px;font-weight:400;color:#2d2d3a;letter-spacing:-0.1px;-webkit-text-stroke:0.36px #2d2d3a;">31,716</div>
<div style="position:absolute;left:648px;top:477px;width:145px;height:33px;overflow:hidden">
<div class="t" style="left:9.5px;top:10.60px;font-size:13px;line-height:13px;font-weight:400;color:#2d2d3a;letter-spacing:0.8px;-webkit-text-stroke:0.36px #2d2d3a;">Akita</div>
<svg style="position:absolute;left:46.90625px;top:9.5px;" width="15" height="15" viewBox="0 0 15 15" fill="none"><circle cx="7.5" cy="3" r="1.9" stroke="#a6a6b8" stroke-width="1.2"/><path d="M7.5 4.9 L7.5 13.4 M1.3 8.6 A6.2 5 0 0 0 13.7 8.6" stroke="#a6a6b8" stroke-width="1.2" stroke-linecap="round"/></svg>
</div>
<div class="t" style="left:802.6px;top:487.60px;font-size:13px;line-height:13px;font-weight:400;color:#2d2d3a;letter-spacing:0.6px;-webkit-text-stroke:0.36px #2d2d3a;">04 Sep</div>
<div class="t" style="left:1092px;top:487.60px;font-size:13px;line-height:13px;font-weight:400;color:#2d2d3a;letter-spacing:-0.1px;-webkit-text-stroke:0.36px #2d2d3a;">SHIPFIX</div>
<svg style="position:absolute;left:1645.8px;top:488.5px;" width="11" height="11" viewBox="0 0 11 11" fill="none"><path d="M2.6 9.8 L3 7.6 A4.4 4.2 0 1 1 5 9 Z" stroke="#b5b5c6" stroke-width="1.1" stroke-linejoin="round"/></svg>
<div class="t" style="left:1672.8px;top:487.60px;font-size:13px;line-height:13px;font-weight:400;color:#2d2d3a;letter-spacing:0.8px;-webkit-text-stroke:0.36px #2d2d3a;">2013</div>
<div class="t" style="left:63px;top:522.27px;font-size:11.5px;line-height:11.5px;font-weight:400;color:#5e6b8b;letter-spacing:0px;">7</div>
<div class="t" style="left:146.41875px;top:522.27px;font-size:11.5px;line-height:11.5px;font-weight:400;color:#6a6a85;letter-spacing:0.4px;">28</div>
<svg style="position:absolute;left:131.41875px;top:522.3px;" width="12" height="10" viewBox="0 0 12 10" fill="none"><rect x="0.7" y="0.7" width="10.6" height="8.6" rx="1.5" stroke="#c5c5d0" stroke-width="1.2"/><path d="M1 1.5 L6 5.5 L11 1.5" stroke="#c5c5d0" stroke-width="1.2" stroke-linejoin="round"/></svg>
<div class="t" style="left:177.4px;top:520.60px;font-size:13px;line-height:13px;font-weight:400;color:#2d2d3a;letter-spacing:0.88px;-webkit-text-stroke:0.36px #2d2d3a;">8:06 AM</div>
<div class="t" style="left:322.4px;top:520.60px;font-size:13px;line-height:13px;font-weight:400;color:#2d2d3a;letter-spacing:-0.16px;-webkit-text-stroke:0.36px #2d2d3a;">SEKAR PERMATA</div>
<div class="t" style="left:512.6px;top:520.60px;font-size:13px;line-height:13px;font-weight:400;color:#2d2d3a;letter-spacing:0.8px;-webkit-text-stroke:0.36px #2d2d3a;">1,379</div>
<div style="position:absolute;left:648px;top:510px;width:145px;height:33px;overflow:hidden">
<div class="t" style="left:9.5px;top:10.60px;font-size:13px;line-height:13px;font-weight:400;color:#2d2d3a;letter-spacing:0.55px;-webkit-text-stroke:0.36px #2d2d3a;">Port Weller</div>
<svg style="position:absolute;left:84.1125px;top:9.5px;" width="15" height="15" viewBox="0 0 15 15" fill="none"><circle cx="7.5" cy="3" r="1.9" stroke="#a6a6b8" stroke-width="1.2"/><path d="M7.5 4.9 L7.5 13.4 M1.3 8.6 A6.2 5 0 0 0 13.7 8.6" stroke="#a6a6b8" stroke-width="1.2" stroke-linecap="round"/></svg>
</div>
<div class="t" style="left:802.6px;top:520.60px;font-size:13px;line-height:13px;font-weight:400;color:#2d2d3a;letter-spacing:0.6px;-webkit-text-stroke:0.36px #2d2d3a;">31 Aug</div>
<div class="t" style="left:1092px;top:520.60px;font-size:13px;line-height:13px;font-weight:400;color:#2d2d3a;letter-spacing:-0.1px;-webkit-text-stroke:0.36px #2d2d3a;">SHIPFIX</div>
<svg style="position:absolute;left:1645.8px;top:521.5px;" width="11" height="11" viewBox="0 0 11 11" fill="none"><path d="M2.6 9.8 L3 7.6 A4.4 4.2 0 1 1 5 9 Z" stroke="#b5b5c6" stroke-width="1.1" stroke-linejoin="round"/></svg>
<div class="t" style="left:1672.8px;top:520.60px;font-size:13px;line-height:13px;font-weight:400;color:#2d2d3a;letter-spacing:0.8px;-webkit-text-stroke:0.36px #2d2d3a;">1986</div>
<div class="t" style="left:63px;top:555.27px;font-size:11.5px;line-height:11.5px;font-weight:400;color:#5e6b8b;letter-spacing:0px;">8</div>
<div class="t" style="left:146.41875px;top:555.27px;font-size:11.5px;line-height:11.5px;font-weight:400;color:#6a6a85;letter-spacing:0.4px;">12</div>
<svg style="position:absolute;left:131.41875px;top:555.3px;" width="12" height="10" viewBox="0 0 12 10" fill="none"><rect x="0.7" y="0.7" width="10.6" height="8.6" rx="1.5" stroke="#c5c5d0" stroke-width="1.2"/><path d="M1 1.5 L6 5.5 L11 1.5" stroke="#c5c5d0" stroke-width="1.2" stroke-linejoin="round"/></svg>
<div class="t" style="left:177.4px;top:553.60px;font-size:13px;line-height:13px;font-weight:400;color:#2d2d3a;letter-spacing:0.55px;-webkit-text-stroke:0.36px #2d2d3a;">7:50 AM</div>
<div class="t" style="left:322.4px;top:553.60px;font-size:13px;line-height:13px;font-weight:400;color:#2d2d3a;letter-spacing:0.05px;-webkit-text-stroke:0.36px #2d2d3a;">KYRA THALEIA</div>
<svg style="position:absolute;left:421.25px;top:554.5px;" width="11" height="11" viewBox="0 0 11 11" fill="none"><path d="M2.6 9.8 L3 7.6 A4.4 4.2 0 1 1 5 9 Z" stroke="#b5b5c6" stroke-width="1.1" stroke-linejoin="round"/></svg>
<div class="t" style="left:435.75px;top:554.27px;font-size:11.5px;line-height:11.5px;font-weight:400;color:#8a8aa0;letter-spacing:0px;">1</div>
<svg style="position:absolute;left:445.75px;top:553px;" width="15" height="13" viewBox="0 0 15 13" fill="none"><path d="M0.5 6.9 L3.3 6.9 L5 1.4 L9.1 12.1 L11.2 6.9 L13.6 6.9" stroke="#8bb9e2" stroke-width="1.3" stroke-linecap="round" stroke-linejoin="round"/></svg>
<div class="t" style="left:512.6px;top:553.60px;font-size:13px;line-height:13px;font-weight:400;color:#2d2d3a;letter-spacing:0.4px;-webkit-text-stroke:0.36px #2d2d3a;">81,383</div>
<div style="position:absolute;left:648px;top:543px;width:145px;height:33px;overflow:hidden">
<div class="t" style="left:9.5px;top:10.60px;font-size:13px;line-height:13px;font-weight:400;color:#2d2d3a;letter-spacing:0.55px;-webkit-text-stroke:0.36px #2d2d3a;">Sunderland</div>
<svg style="position:absolute;left:86.03125px;top:9.5px;" width="15" height="15" viewBox="0 0 15 15" fill="none"><circle cx="7.5" cy="3" r="1.9" stroke="#a6a6b8" stroke-width="1.2"/><path d="M7.5 4.9 L7.5 13.4 M1.3 8.6 A6.2 5 0 0 0 13.7 8.6" stroke="#a6a6b8" stroke-width="1.2" stroke-linecap="round"/></svg>
</div>
<div class="t" style="left:802.6px;top:553.60px;font-size:13px;line-height:13px;font-weight:400;color:#2d2d3a;letter-spacing:0.42px;-webkit-text-stroke:0.36px #2d2d3a;">28 Aug - 15 Sep</div>
<div class="t" style="left:1092px;top:553.60px;font-size:13px;line-height:13px;font-weight:400;color:#2d2d3a;letter-spacing:-0.1px;-webkit-text-stroke:0.36px #2d2d3a;">SHIPFIX</div>
<svg style="position:absolute;left:1645.8px;top:554.5px;" width="11" height="11" viewBox="0 0 11 11" fill="none"><path d="M2.6 9.8 L3 7.6 A4.4 4.2 0 1 1 5 9 Z" stroke="#b5b5c6" stroke-width="1.1" stroke-linejoin="round"/></svg>
<div class="t" style="left:1672.8px;top:553.60px;font-size:13px;line-height:13px;font-weight:400;color:#2d2d3a;letter-spacing:0.8px;-webkit-text-stroke:0.36px #2d2d3a;">2009</div>
<div class="t" style="left:63px;top:588.27px;font-size:11.5px;line-height:11.5px;font-weight:400;color:#5e6b8b;letter-spacing:0px;">9</div>
<div class="t" style="left:146.41875px;top:588.27px;font-size:11.5px;line-height:11.5px;font-weight:400;color:#6a6a85;letter-spacing:0.4px;">22</div>
<svg style="position:absolute;left:131.41875px;top:588.3px;" width="12" height="10" viewBox="0 0 12 10" fill="none"><rect x="0.7" y="0.7" width="10.6" height="8.6" rx="1.5" stroke="#c5c5d0" stroke-width="1.2"/><path d="M1 1.5 L6 5.5 L11 1.5" stroke="#c5c5d0" stroke-width="1.2" stroke-linejoin="round"/></svg>
<div class="t" style="left:177.4px;top:586.60px;font-size:13px;line-height:13px;font-weight:400;color:#2d2d3a;letter-spacing:0.55px;-webkit-text-stroke:0.36px #2d2d3a;">7:34 AM</div>
<div class="t" style="left:322.4px;top:586.60px;font-size:13px;line-height:13px;font-weight:400;color:#2d2d3a;letter-spacing:0.04px;-webkit-text-stroke:0.36px #2d2d3a;">GOLDEN SUNNY HANA</div>
<div class="t" style="left:512.6px;top:586.60px;font-size:13px;line-height:13px;font-weight:400;color:#2d2d3a;letter-spacing:0.8px;-webkit-text-stroke:0.36px #2d2d3a;">3,551</div>
<div style="position:absolute;left:648px;top:576px;width:145px;height:33px;overflow:hidden">
<div class="t" style="left:9.5px;top:10.60px;font-size:13px;line-height:13px;font-weight:400;color:#2d2d3a;letter-spacing:0.19px;-webkit-text-stroke:0.36px #2d2d3a;">Far East</div>
</div>
<div class="t" style="left:802.6px;top:586.60px;font-size:13px;line-height:13px;font-weight:400;color:#2d2d3a;letter-spacing:0.6px;-webkit-text-stroke:0.36px #2d2d3a;">28 Aug</div>
<div class="t" style="left:1092px;top:586.60px;font-size:13px;line-height:13px;font-weight:400;color:#2d2d3a;letter-spacing:-0.1px;-webkit-text-stroke:0.36px #2d2d3a;">SHIPFIX</div>
<svg style="position:absolute;left:1645.8px;top:587.5px;" width="11" height="11" viewBox="0 0 11 11" fill="none"><path d="M2.6 9.8 L3 7.6 A4.4 4.2 0 1 1 5 9 Z" stroke="#b5b5c6" stroke-width="1.1" stroke-linejoin="round"/></svg>
<div class="t" style="left:1672.8px;top:586.60px;font-size:13px;line-height:13px;font-weight:400;color:#2d2d3a;letter-spacing:0.8px;-webkit-text-stroke:0.36px #2d2d3a;">2017</div>
<div class="t" style="left:63px;top:621.27px;font-size:11.5px;line-height:11.5px;font-weight:400;color:#5e6b8b;letter-spacing:0.3px;">10</div>
<div class="t" style="left:146.41875px;top:621.27px;font-size:11.5px;line-height:11.5px;font-weight:400;color:#6a6a85;letter-spacing:0.4px;">22</div>
<svg style="position:absolute;left:131.41875px;top:621.3px;" width="12" height="10" viewBox="0 0 12 10" fill="none"><rect x="0.7" y="0.7" width="10.6" height="8.6" rx="1.5" stroke="#c5c5d0" stroke-width="1.2"/><path d="M1 1.5 L6 5.5 L11 1.5" stroke="#c5c5d0" stroke-width="1.2" stroke-linejoin="round"/></svg>
<div class="t" style="left:177.4px;top:619.60px;font-size:13px;line-height:13px;font-weight:400;color:#2d2d3a;letter-spacing:0.55px;-webkit-text-stroke:0.36px #2d2d3a;">7:26 AM</div>
<div class="t" style="left:232.953125px;top:619.60px;font-size:13px;line-height:13px;font-weight:400;color:#5cc276;letter-spacing:0.5px;-webkit-text-stroke:0.25px #5cc276;">fresh</div>
<div class="t" style="left:322.4px;top:619.60px;font-size:13px;line-height:13px;font-weight:400;color:#2d2d3a;letter-spacing:-0.04px;-webkit-text-stroke:0.36px #2d2d3a;">KABONGA BARU</div>
<div class="t" style="left:512.6px;top:619.60px;font-size:13px;line-height:13px;font-weight:400;color:#2d2d3a;letter-spacing:0.8px;-webkit-text-stroke:0.36px #2d2d3a;">1,236</div>
<div style="position:absolute;left:648px;top:609px;width:145px;height:33px;overflow:hidden">
<div class="t" style="left:9.5px;top:10.60px;font-size:13px;line-height:13px;font-weight:400;color:#2d2d3a;letter-spacing:0.55px;-webkit-text-stroke:0.36px #2d2d3a;">Bushehr</div>
<svg style="position:absolute;left:66.2875px;top:9.5px;" width="15" height="15" viewBox="0 0 15 15" fill="none"><circle cx="7.5" cy="3" r="1.9" stroke="#a6a6b8" stroke-width="1.2"/><path d="M7.5 4.9 L7.5 13.4 M1.3 8.6 A6.2 5 0 0 0 13.7 8.6" stroke="#a6a6b8" stroke-width="1.2" stroke-linecap="round"/></svg>
</div>
<div class="t" style="left:802.6px;top:619.60px;font-size:13px;line-height:13px;font-weight:400;color:#2d2d3a;letter-spacing:0.6px;-webkit-text-stroke:0.36px #2d2d3a;">06 Sep</div>
<svg style="position:absolute;left:1645.8px;top:620.5px;" width="11" height="11" viewBox="0 0 11 11" fill="none"><path d="M2.6 9.8 L3 7.6 A4.4 4.2 0 1 1 5 9 Z" stroke="#b5b5c6" stroke-width="1.1" stroke-linejoin="round"/></svg>
<div class="t" style="left:1672.8px;top:619.60px;font-size:13px;line-height:13px;font-weight:400;color:#2d2d3a;letter-spacing:0.8px;-webkit-text-stroke:0.36px #2d2d3a;">1986</div>
<div class="t" style="left:63px;top:654.27px;font-size:11.5px;line-height:11.5px;font-weight:400;color:#5e6b8b;letter-spacing:0.3px;">11</div>
<div class="t" style="left:146.41875px;top:654.27px;font-size:11.5px;line-height:11.5px;font-weight:400;color:#6a6a85;letter-spacing:0.4px;">19</div>
<svg style="position:absolute;left:131.41875px;top:654.3px;" width="12" height="10" viewBox="0 0 12 10" fill="none"><rect x="0.7" y="0.7" width="10.6" height="8.6" rx="1.5" stroke="#c5c5d0" stroke-width="1.2"/><path d="M1 1.5 L6 5.5 L11 1.5" stroke="#c5c5d0" stroke-width="1.2" stroke-linejoin="round"/></svg>
<div class="t" style="left:177.4px;top:652.60px;font-size:13px;line-height:13px;font-weight:400;color:#2d2d3a;letter-spacing:0.55px;-webkit-text-stroke:0.36px #2d2d3a;">7:05 AM</div>
<div class="t" style="left:322.4px;top:652.60px;font-size:13px;line-height:13px;font-weight:400;color:#2d2d3a;letter-spacing:-0.01px;-webkit-text-stroke:0.36px #2d2d3a;">MATROZOS</div>
<svg style="position:absolute;left:401.0075px;top:652px;" width="15" height="13" viewBox="0 0 15 13" fill="none"><path d="M0.5 6.9 L3.3 6.9 L5 1.4 L9.1 12.1 L11.2 6.9 L13.6 6.9" stroke="#8bb9e2" stroke-width="1.3" stroke-linecap="round" stroke-linejoin="round"/></svg>
<div class="t" style="left:512.6px;top:652.60px;font-size:13px;line-height:13px;font-weight:400;color:#2d2d3a;letter-spacing:0.8px;-webkit-text-stroke:0.36px #2d2d3a;">33,002</div>
<div style="position:absolute;left:648px;top:642px;width:145px;height:33px;overflow:hidden">
<div class="t" style="left:9.5px;top:10.60px;font-size:13px;line-height:13px;font-weight:400;color:#2d2d3a;letter-spacing:0.7px;-webkit-text-stroke:0.36px #2d2d3a;">Atlantic</div>
</div>
<div class="t" style="left:802.6px;top:652.60px;font-size:13px;line-height:13px;font-weight:400;color:#2d2d3a;letter-spacing:0.6px;-webkit-text-stroke:0.36px #2d2d3a;">28 Aug</div>
<div class="t" style="left:1092px;top:652.60px;font-size:13px;line-height:13px;font-weight:400;color:#2d2d3a;letter-spacing:-0.1px;-webkit-text-stroke:0.36px #2d2d3a;">SHIPFIX</div>
<svg style="position:absolute;left:1501px;top:653.5px;" width="11" height="11" viewBox="0 0 11 11" fill="none"><path d="M2.6 9.8 L3 7.6 A4.4 4.2 0 1 1 5 9 Z" stroke="#b5b5c6" stroke-width="1.1" stroke-linejoin="round"/></svg>
<div style="position:absolute;left:1525px;top:646.5px;width:24px;height:24px;background:#f7950f;border-radius:50%"></div>
<div class="t" style="left:1531px;top:654.26px;font-size:9.5px;line-height:9.5px;font-weight:400;color:#fff;letter-spacing:-0.3px;-webkit-text-stroke:0.25px #fff;">JN</div>
<svg style="position:absolute;left:1645.8px;top:653.5px;" width="11" height="11" viewBox="0 0 11 11" fill="none"><path d="M2.6 9.8 L3 7.6 A4.4 4.2 0 1 1 5 9 Z" stroke="#b5b5c6" stroke-width="1.1" stroke-linejoin="round"/></svg>
<div class="t" style="left:1672.8px;top:652.60px;font-size:13px;line-height:13px;font-weight:400;color:#2d2d3a;letter-spacing:0.8px;-webkit-text-stroke:0.36px #2d2d3a;">2010</div>
<svg style="position:absolute;left:1823px;top:322px;" width="15" height="15" viewBox="0 0 15 15" fill="none"><path d="M8.6 1 L1.8 8.8 L7.5 8.8 L6.4 14 L13.2 6.2 L7.5 6.2 Z" stroke="#9b9bb1" stroke-width="1.3" stroke-linejoin="round"/></svg>
<div style="position:absolute;left:1858.2px;top:321.35px;width:3.5px;height:3.5px;background:#a3a3b8;border-radius:50%"></div>
<div style="position:absolute;left:1858.2px;top:327.25px;width:3.5px;height:3.5px;background:#a3a3b8;border-radius:50%"></div>
<div style="position:absolute;left:1858.2px;top:333.05px;width:3.5px;height:3.5px;background:#a3a3b8;border-radius:50%"></div>
<svg style="position:absolute;left:1823px;top:355px;" width="15" height="15" viewBox="0 0 15 15" fill="none"><path d="M8.6 1 L1.8 8.8 L7.5 8.8 L6.4 14 L13.2 6.2 L7.5 6.2 Z" stroke="#9b9bb1" stroke-width="1.3" stroke-linejoin="round"/></svg>
<div style="position:absolute;left:1858.2px;top:354.35px;width:3.5px;height:3.5px;background:#a3a3b8;border-radius:50%"></div>
<div style="position:absolute;left:1858.2px;top:360.25px;width:3.5px;height:3.5px;background:#a3a3b8;border-radius:50%"></div>
<div style="position:absolute;left:1858.2px;top:366.05px;width:3.5px;height:3.5px;background:#a3a3b8;border-radius:50%"></div>
<svg style="position:absolute;left:1823px;top:388px;" width="15" height="15" viewBox="0 0 15 15" fill="none"><path d="M8.6 1 L1.8 8.8 L7.5 8.8 L6.4 14 L13.2 6.2 L7.5 6.2 Z" stroke="#9b9bb1" stroke-width="1.3" stroke-linejoin="round"/></svg>
<div style="position:absolute;left:1858.2px;top:387.35px;width:3.5px;height:3.5px;background:#a3a3b8;border-radius:50%"></div>
<div style="position:absolute;left:1858.2px;top:393.25px;width:3.5px;height:3.5px;background:#a3a3b8;border-radius:50%"></div>
<div style="position:absolute;left:1858.2px;top:399.05px;width:3.5px;height:3.5px;background:#a3a3b8;border-radius:50%"></div>
<svg style="position:absolute;left:1823px;top:421px;" width="15" height="15" viewBox="0 0 15 15" fill="none"><path d="M8.6 1 L1.8 8.8 L7.5 8.8 L6.4 14 L13.2 6.2 L7.5 6.2 Z" stroke="#9b9bb1" stroke-width="1.3" stroke-linejoin="round"/></svg>
<div style="position:absolute;left:1858.2px;top:420.35px;width:3.5px;height:3.5px;background:#a3a3b8;border-radius:50%"></div>
<div style="position:absolute;left:1858.2px;top:426.25px;width:3.5px;height:3.5px;background:#a3a3b8;border-radius:50%"></div>
<div style="position:absolute;left:1858.2px;top:432.05px;width:3.5px;height:3.5px;background:#a3a3b8;border-radius:50%"></div>
<svg style="position:absolute;left:1823px;top:454px;" width="15" height="15" viewBox="0 0 15 15" fill="none"><path d="M8.6 1 L1.8 8.8 L7.5 8.8 L6.4 14 L13.2 6.2 L7.5 6.2 Z" stroke="#9b9bb1" stroke-width="1.3" stroke-linejoin="round"/></svg>
<div style="position:absolute;left:1858.2px;top:453.35px;width:3.5px;height:3.5px;background:#a3a3b8;border-radius:50%"></div>
<div style="position:absolute;left:1858.2px;top:459.25px;width:3.5px;height:3.5px;background:#a3a3b8;border-radius:50%"></div>
<div style="position:absolute;left:1858.2px;top:465.05px;width:3.5px;height:3.5px;background:#a3a3b8;border-radius:50%"></div>
<svg style="position:absolute;left:1823px;top:487px;" width="15" height="15" viewBox="0 0 15 15" fill="none"><path d="M8.6 1 L1.8 8.8 L7.5 8.8 L6.4 14 L13.2 6.2 L7.5 6.2 Z" stroke="#9b9bb1" stroke-width="1.3" stroke-linejoin="round"/></svg>
<div style="position:absolute;left:1858.2px;top:486.35px;width:3.5px;height:3.5px;background:#a3a3b8;border-radius:50%"></div>
<div style="position:absolute;left:1858.2px;top:492.25px;width:3.5px;height:3.5px;background:#a3a3b8;border-radius:50%"></div>
<div style="position:absolute;left:1858.2px;top:498.05px;width:3.5px;height:3.5px;background:#a3a3b8;border-radius:50%"></div>
<svg style="position:absolute;left:1823px;top:520px;" width="15" height="15" viewBox="0 0 15 15" fill="none"><path d="M8.6 1 L1.8 8.8 L7.5 8.8 L6.4 14 L13.2 6.2 L7.5 6.2 Z" stroke="#9b9bb1" stroke-width="1.3" stroke-linejoin="round"/></svg>
<div style="position:absolute;left:1858.2px;top:519.35px;width:3.5px;height:3.5px;background:#a3a3b8;border-radius:50%"></div>
<div style="position:absolute;left:1858.2px;top:525.25px;width:3.5px;height:3.5px;background:#a3a3b8;border-radius:50%"></div>
<div style="position:absolute;left:1858.2px;top:531.05px;width:3.5px;height:3.5px;background:#a3a3b8;border-radius:50%"></div>
<svg style="position:absolute;left:1823px;top:553px;" width="15" height="15" viewBox="0 0 15 15" fill="none"><path d="M8.6 1 L1.8 8.8 L7.5 8.8 L6.4 14 L13.2 6.2 L7.5 6.2 Z" stroke="#9b9bb1" stroke-width="1.3" stroke-linejoin="round"/></svg>
<div style="position:absolute;left:1858.2px;top:552.35px;width:3.5px;height:3.5px;background:#a3a3b8;border-radius:50%"></div>
<div style="position:absolute;left:1858.2px;top:558.25px;width:3.5px;height:3.5px;background:#a3a3b8;border-radius:50%"></div>
<div style="position:absolute;left:1858.2px;top:564.05px;width:3.5px;height:3.5px;background:#a3a3b8;border-radius:50%"></div>
<svg style="position:absolute;left:1823px;top:586px;" width="15" height="15" viewBox="0 0 15 15" fill="none"><path d="M8.6 1 L1.8 8.8 L7.5 8.8 L6.4 14 L13.2 6.2 L7.5 6.2 Z" stroke="#9b9bb1" stroke-width="1.3" stroke-linejoin="round"/></svg>
<div style="position:absolute;left:1858.2px;top:585.35px;width:3.5px;height:3.5px;background:#a3a3b8;border-radius:50%"></div>
<div style="position:absolute;left:1858.2px;top:591.25px;width:3.5px;height:3.5px;background:#a3a3b8;border-radius:50%"></div>
<div style="position:absolute;left:1858.2px;top:597.05px;width:3.5px;height:3.5px;background:#a3a3b8;border-radius:50%"></div>
<svg style="position:absolute;left:1823px;top:619px;" width="15" height="15" viewBox="0 0 15 15" fill="none"><path d="M8.6 1 L1.8 8.8 L7.5 8.8 L6.4 14 L13.2 6.2 L7.5 6.2 Z" stroke="#9b9bb1" stroke-width="1.3" stroke-linejoin="round"/></svg>
<div style="position:absolute;left:1858.2px;top:618.35px;width:3.5px;height:3.5px;background:#a3a3b8;border-radius:50%"></div>
<div style="position:absolute;left:1858.2px;top:624.25px;width:3.5px;height:3.5px;background:#a3a3b8;border-radius:50%"></div>
<div style="position:absolute;left:1858.2px;top:630.05px;width:3.5px;height:3.5px;background:#a3a3b8;border-radius:50%"></div>
<svg style="position:absolute;left:1823px;top:652px;" width="15" height="15" viewBox="0 0 15 15" fill="none"><path d="M8.6 1 L1.8 8.8 L7.5 8.8 L6.4 14 L13.2 6.2 L7.5 6.2 Z" stroke="#9b9bb1" stroke-width="1.3" stroke-linejoin="round"/></svg>
<div style="position:absolute;left:1858.2px;top:651.35px;width:3.5px;height:3.5px;background:#a3a3b8;border-radius:50%"></div>
<div style="position:absolute;left:1858.2px;top:657.25px;width:3.5px;height:3.5px;background:#a3a3b8;border-radius:50%"></div>
<div style="position:absolute;left:1858.2px;top:663.05px;width:3.5px;height:3.5px;background:#a3a3b8;border-radius:50%"></div>
<svg style="position:absolute;left:1823px;top:685px;" width="15" height="15" viewBox="0 0 15 15" fill="none"><path d="M8.6 1 L1.8 8.8 L7.5 8.8 L6.4 14 L13.2 6.2 L7.5 6.2 Z" stroke="#9b9bb1" stroke-width="1.3" stroke-linejoin="round"/></svg>
<div style="position:absolute;left:1858.2px;top:684.35px;width:3.5px;height:3.5px;background:#a3a3b8;border-radius:50%"></div>
<div style="position:absolute;left:1858.2px;top:690.25px;width:3.5px;height:3.5px;background:#a3a3b8;border-radius:50%"></div>
<div style="position:absolute;left:1858.2px;top:696.05px;width:3.5px;height:3.5px;background:#a3a3b8;border-radius:50%"></div>
<div style="position:absolute;left:1866px;top:103px;width:13px;height:578px;background:#fff"></div>
<div style="position:absolute;left:1867px;top:100px;width:8px;height:308px;background:#808080;border-radius:4px"></div>
<div style="position:absolute;left:0;top:0;width:1879px;height:681px;will-change:transform">
<div style="position:absolute;left:1559px;top:91px;width:223px;height:325px;background:#fff;border:1px solid #dcdde4;border-radius:5px;box-sizing:border-box;box-shadow:0 4px 14px rgba(30,30,60,0.10)"></div>
<div class="t" style="left:1570.4px;top:108.79px;font-size:9.7px;line-height:9.7px;font-weight:400;color:#696b98;letter-spacing:0px;-webkit-text-stroke:0.32px #696b98;">RESULTS TRACKER</div>
<div style="position:absolute;left:1669px;top:113px;width:103px;height:1px;background:#e3e4ec"></div>
<div style="position:absolute;left:1570px;top:140px;width:12px;height:12px;background:#3d3b5c;border-radius:2px"></div>
<svg style="position:absolute;left:1570px;top:140px;" width="12" height="12" viewBox="0 0 12 12" fill="none"><path d="M3 6.2 L5.2 8.3 L9 4" stroke="#fff" stroke-width="1.4" stroke-linecap="round" stroke-linejoin="round"/></svg>
<div class="t" style="left:1590.2px;top:140.00px;font-size:13px;line-height:13px;font-weight:400;color:#4d4e5a;letter-spacing:0.35px;">Display New Tonnage</div>
<div style="position:absolute;left:1570px;top:176px;width:12px;height:12px;background:#3d3b5c;border-radius:2px"></div>
<svg style="position:absolute;left:1570px;top:176px;" width="12" height="12" viewBox="0 0 12 12" fill="none"><path d="M3 6.2 L5.2 8.3 L9 4" stroke="#fff" stroke-width="1.4" stroke-linecap="round" stroke-linejoin="round"/></svg>
<div class="t" style="left:1590.2px;top:176.00px;font-size:13px;line-height:13px;font-weight:400;color:#4d4e5a;letter-spacing:0.35px;">Display Gone Tonnage</div>
<div class="t" style="left:1570.4px;top:212.89px;font-size:9.7px;line-height:9.7px;font-weight:400;color:#696b98;letter-spacing:0.38px;-webkit-text-stroke:0.32px #696b98;">LAYOUT</div>
<div style="position:absolute;left:1616px;top:217px;width:156px;height:1px;background:#e3e4ec"></div>
<div class="t" style="left:1592.4px;top:244.00px;font-size:13px;line-height:13px;font-weight:400;color:#4d4e5a;letter-spacing:0.35px;">Panel Layout</div>
<svg style="position:absolute;left:1764px;top:245px;" width="7" height="9" viewBox="0 0 7 9" fill="none"><path d="M2 1.5 L5 4.5 L2 7.5" stroke="#5a5a78" stroke-width="1.2" stroke-linecap="round" stroke-linejoin="round"/></svg>
<div class="t" style="left:1592.4px;top:280.00px;font-size:13px;line-height:13px;font-weight:400;color:#4d4e5a;letter-spacing:0.35px;">Customise Columns</div>
<svg style="position:absolute;left:1763px;top:283px;" width="9" height="7" viewBox="0 0 9 7" fill="none"><path d="M1.5 2 L4.5 5 L7.5 2" stroke="#5a5a78" stroke-width="1.2" stroke-linecap="round" stroke-linejoin="round"/></svg>
<div class="t" style="left:1592.4px;top:316.00px;font-size:13px;line-height:13px;font-weight:400;color:#4d4e5a;letter-spacing:0.35px;">Customise Units</div>
<svg style="position:absolute;left:1764px;top:317px;" width="7" height="9" viewBox="0 0 7 9" fill="none"><path d="M2 1.5 L5 4.5 L2 7.5" stroke="#5a5a78" stroke-width="1.2" stroke-linecap="round" stroke-linejoin="round"/></svg>
<div class="t" style="left:1592.4px;top:352.00px;font-size:13px;line-height:13px;font-weight:400;color:#4d4e5a;letter-spacing:0.35px;">Density</div>
<svg style="position:absolute;left:1764px;top:353px;" width="7" height="9" viewBox="0 0 7 9" fill="none"><path d="M2 1.5 L5 4.5 L2 7.5" stroke="#5a5a78" stroke-width="1.2" stroke-linecap="round" stroke-linejoin="round"/></svg>
<div class="t" style="left:1592.4px;top:388.00px;font-size:13px;line-height:13px;font-weight:400;color:#4d4e5a;letter-spacing:0.35px;">More</div>
<svg style="position:absolute;left:1569px;top:243px;" width="15" height="14" viewBox="0 0 15 14" fill="none"><rect x="0.8" y="0.8" width="13.4" height="12.4" rx="2" stroke="#4d4b6c" stroke-width="1.4"/><path d="M9 1 L9 13" stroke="#4d4b6c" stroke-width="1.4"/></svg>
<svg style="position:absolute;left:1569px;top:279px;" width="15" height="14" viewBox="0 0 15 14" fill="none"><rect x="0.8" y="0.8" width="13.4" height="12.4" rx="2" stroke="#4d4b6c" stroke-width="1.4"/><path d="M7.5 1 L7.5 13" stroke="#4d4b6c" stroke-width="1.4"/></svg>
<svg style="position:absolute;left:1568px;top:314px;" width="16" height="16" viewBox="0 0 16 16" fill="none"><path d="M1.5 11.5 L11.5 1.5 L14.5 4.5 L4.5 14.5 Z" stroke="#4d4b6c" stroke-width="1.4" stroke-linejoin="round"/><path d="M4.5 8.5 L6 10 M6.5 6.5 L8 8 M8.5 4.5 L10 6" stroke="#4d4b6c" stroke-width="1.2" stroke-linecap="round"/></svg>
<svg style="position:absolute;left:1568px;top:352px;" width="16" height="12" viewBox="0 0 16 12" fill="none"><rect x="1.6" y="1.9" width="9.7" height="4.1" stroke="#4d4b6c" stroke-width="1.1"/><path d="M1.6 7.6 L11.3 7.6 M1.6 10.4 L11.3 10.4 M13.4 1.5 L13.4 10.7 M12.3 1.5 L14.5 1.5 M12.3 10.7 L14.5 10.7" stroke="#4d4b6c" stroke-width="1.1"/></svg>
<div style="position:absolute;left:1569.1px;top:393.4px;width:1.8px;height:1.8px;background:#4d4b6c;border-radius:50%"></div>
<div style="position:absolute;left:1575px;top:393.4px;width:1.8px;height:1.8px;background:#4d4b6c;border-radius:50%"></div>
<div style="position:absolute;left:1581px;top:393.4px;width:1.8px;height:1.8px;background:#4d4b6c;border-radius:50%"></div>
<div style="position:absolute;left:1324px;top:272px;width:241px;height:371px;background:#fff;border:1px solid #d8dae2;border-radius:5px;box-sizing:border-box;box-shadow:0 5px 14px rgba(30,30,60,0.12)"></div>
<div class="t" style="left:1340.2px;top:284.10px;font-size:13px;line-height:13px;font-weight:400;color:#6b6b78;letter-spacing:0.3px;">Type to search</div>
<div style="position:absolute;left:1337px;top:307.5px;width:216px;height:1px;background:#aab7d4"></div>
<div style="position:absolute;left:1556px;top:310px;width:8px;height:19px;background:#808080;border-radius:4px"></div>
<div style="position:absolute;left:1343.0px;top:329.2px;width:2.6px;height:2.6px;background:#d3d4dc;border-radius:50%"></div>
<div style="position:absolute;left:1343.0px;top:334.0px;width:2.6px;height:2.6px;background:#d3d4dc;border-radius:50%"></div>
<div style="position:absolute;left:1343.0px;top:338.8px;width:2.6px;height:2.6px;background:#d3d4dc;border-radius:50%"></div>
<div style="position:absolute;left:1348.5px;top:329.2px;width:2.6px;height:2.6px;background:#d3d4dc;border-radius:50%"></div>
<div style="position:absolute;left:1348.5px;top:334.0px;width:2.6px;height:2.6px;background:#d3d4dc;border-radius:50%"></div>
<div style="position:absolute;left:1348.5px;top:338.8px;width:2.6px;height:2.6px;background:#d3d4dc;border-radius:50%"></div>
<div class="t" style="left:1365.5px;top:329.30px;font-size:13px;line-height:13px;font-weight:400;color:#4d4e5a;letter-spacing:0.3px;">Date Received</div>
<div style="position:absolute;left:1343.0px;top:357.2px;width:2.6px;height:2.6px;background:#d3d4dc;border-radius:50%"></div>
<div style="position:absolute;left:1343.0px;top:362.0px;width:2.6px;height:2.6px;background:#d3d4dc;border-radius:50%"></div>
<div style="position:absolute;left:1343.0px;top:366.8px;width:2.6px;height:2.6px;background:#d3d4dc;border-radius:50%"></div>
<div style="position:absolute;left:1348.5px;top:357.2px;width:2.6px;height:2.6px;background:#d3d4dc;border-radius:50%"></div>
<div style="position:absolute;left:1348.5px;top:362.0px;width:2.6px;height:2.6px;background:#d3d4dc;border-radius:50%"></div>
<div style="position:absolute;left:1348.5px;top:366.8px;width:2.6px;height:2.6px;background:#d3d4dc;border-radius:50%"></div>
<div class="t" style="left:1365.5px;top:357.30px;font-size:13px;line-height:13px;font-weight:400;color:#4d4e5a;letter-spacing:0.3px;">Vessel Name</div>
<div style="position:absolute;left:1343.0px;top:385.2px;width:2.6px;height:2.6px;background:#d3d4dc;border-radius:50%"></div>
<div style="position:absolute;left:1343.0px;top:390.0px;width:2.6px;height:2.6px;background:#d3d4dc;border-radius:50%"></div>
<div style="position:absolute;left:1343.0px;top:394.8px;width:2.6px;height:2.6px;background:#d3d4dc;border-radius:50%"></div>
<div style="position:absolute;left:1348.5px;top:385.2px;width:2.6px;height:2.6px;background:#d3d4dc;border-radius:50%"></div>
<div style="position:absolute;left:1348.5px;top:390.0px;width:2.6px;height:2.6px;background:#d3d4dc;border-radius:50%"></div>
<div style="position:absolute;left:1348.5px;top:394.8px;width:2.6px;height:2.6px;background:#d3d4dc;border-radius:50%"></div>
<div class="t" style="left:1365.5px;top:385.30px;font-size:13px;line-height:13px;font-weight:400;color:#4d4e5a;letter-spacing:0.3px;">DWT Summer</div>
<div style="position:absolute;left:1510px;top:383.8px;width:33px;height:15px;background:#48476a;border-radius:8px"></div>
<div style="position:absolute;left:1530.5px;top:386.3px;width:10px;height:10px;background:#fff;border-radius:50%"></div>
<div style="position:absolute;left:1343.0px;top:413.2px;width:2.6px;height:2.6px;background:#d3d4dc;border-radius:50%"></div>
<div style="position:absolute;left:1343.0px;top:418.0px;width:2.6px;height:2.6px;background:#d3d4dc;border-radius:50%"></div>
<div style="position:absolute;left:1343.0px;top:422.8px;width:2.6px;height:2.6px;background:#d3d4dc;border-radius:50%"></div>
<div style="position:absolute;left:1348.5px;top:413.2px;width:2.6px;height:2.6px;background:#d3d4dc;border-radius:50%"></div>
<div style="position:absolute;left:1348.5px;top:418.0px;width:2.6px;height:2.6px;background:#d3d4dc;border-radius:50%"></div>
<div style="position:absolute;left:1348.5px;top:422.8px;width:2.6px;height:2.6px;background:#d3d4dc;border-radius:50%"></div>
<div class="t" style="left:1365.5px;top:413.30px;font-size:13px;line-height:13px;font-weight:400;color:#4d4e5a;letter-spacing:0.3px;">Open Areas</div>
<div style="position:absolute;left:1343.0px;top:441.2px;width:2.6px;height:2.6px;background:#d3d4dc;border-radius:50%"></div>
<div style="position:absolute;left:1343.0px;top:446.0px;width:2.6px;height:2.6px;background:#d3d4dc;border-radius:50%"></div>
<div style="position:absolute;left:1343.0px;top:450.8px;width:2.6px;height:2.6px;background:#d3d4dc;border-radius:50%"></div>
<div style="position:absolute;left:1348.5px;top:441.2px;width:2.6px;height:2.6px;background:#d3d4dc;border-radius:50%"></div>
<div style="position:absolute;left:1348.5px;top:446.0px;width:2.6px;height:2.6px;background:#d3d4dc;border-radius:50%"></div>
<div style="position:absolute;left:1348.5px;top:450.8px;width:2.6px;height:2.6px;background:#d3d4dc;border-radius:50%"></div>
<div class="t" style="left:1365.5px;top:441.30px;font-size:13px;line-height:13px;font-weight:400;color:#4d4e5a;letter-spacing:0.3px;">Open Dates</div>
<div style="position:absolute;left:1343.0px;top:469.2px;width:2.6px;height:2.6px;background:#d3d4dc;border-radius:50%"></div>
<div style="position:absolute;left:1343.0px;top:474.0px;width:2.6px;height:2.6px;background:#d3d4dc;border-radius:50%"></div>
<div style="position:absolute;left:1343.0px;top:478.8px;width:2.6px;height:2.6px;background:#d3d4dc;border-radius:50%"></div>
<div style="position:absolute;left:1348.5px;top:469.2px;width:2.6px;height:2.6px;background:#d3d4dc;border-radius:50%"></div>
<div style="position:absolute;left:1348.5px;top:474.0px;width:2.6px;height:2.6px;background:#d3d4dc;border-radius:50%"></div>
<div style="position:absolute;left:1348.5px;top:478.8px;width:2.6px;height:2.6px;background:#d3d4dc;border-radius:50%"></div>
<div class="t" style="left:1365.5px;top:469.30px;font-size:13px;line-height:13px;font-weight:400;color:#4d4e5a;letter-spacing:0.3px;">Commercial Status</div>
<div style="position:absolute;left:1510px;top:467.8px;width:33px;height:15px;background:#48476a;border-radius:8px"></div>
<div style="position:absolute;left:1530.5px;top:470.3px;width:10px;height:10px;background:#fff;border-radius:50%"></div>
<div style="position:absolute;left:1343.0px;top:497.2px;width:2.6px;height:2.6px;background:#d3d4dc;border-radius:50%"></div>
<div style="position:absolute;left:1343.0px;top:502.0px;width:2.6px;height:2.6px;background:#d3d4dc;border-radius:50%"></div>
<div style="position:absolute;left:1343.0px;top:506.8px;width:2.6px;height:2.6px;background:#d3d4dc;border-radius:50%"></div>
<div style="position:absolute;left:1348.5px;top:497.2px;width:2.6px;height:2.6px;background:#d3d4dc;border-radius:50%"></div>
<div style="position:absolute;left:1348.5px;top:502.0px;width:2.6px;height:2.6px;background:#d3d4dc;border-radius:50%"></div>
<div style="position:absolute;left:1348.5px;top:506.8px;width:2.6px;height:2.6px;background:#d3d4dc;border-radius:50%"></div>
<div class="t" style="left:1365.5px;top:497.30px;font-size:13px;line-height:13px;font-weight:400;color:#4d4e5a;letter-spacing:0.3px;">Sender</div>
<div style="position:absolute;left:1510px;top:495.8px;width:33px;height:15px;background:#48476a;border-radius:8px"></div>
<div style="position:absolute;left:1530.5px;top:498.3px;width:10px;height:10px;background:#fff;border-radius:50%"></div>
<div style="position:absolute;left:1343.0px;top:525.2px;width:2.6px;height:2.6px;background:#d3d4dc;border-radius:50%"></div>
<div style="position:absolute;left:1343.0px;top:530.0px;width:2.6px;height:2.6px;background:#d3d4dc;border-radius:50%"></div>
<div style="position:absolute;left:1343.0px;top:534.8px;width:2.6px;height:2.6px;background:#d3d4dc;border-radius:50%"></div>
<div style="position:absolute;left:1348.5px;top:525.2px;width:2.6px;height:2.6px;background:#d3d4dc;border-radius:50%"></div>
<div style="position:absolute;left:1348.5px;top:530.0px;width:2.6px;height:2.6px;background:#d3d4dc;border-radius:50%"></div>
<div style="position:absolute;left:1348.5px;top:534.8px;width:2.6px;height:2.6px;background:#d3d4dc;border-radius:50%"></div>
<div class="t" style="left:1365.5px;top:525.30px;font-size:13px;line-height:13px;font-weight:400;color:#4d4e5a;letter-spacing:0.3px;">Tags</div>
<div style="position:absolute;left:1510px;top:523.8px;width:33px;height:15px;background:#48476a;border-radius:8px"></div>
<div style="position:absolute;left:1530.5px;top:526.3px;width:10px;height:10px;background:#fff;border-radius:50%"></div>
<div style="position:absolute;left:1343.0px;top:553.2px;width:2.6px;height:2.6px;background:#d3d4dc;border-radius:50%"></div>
<div style="position:absolute;left:1343.0px;top:558.0px;width:2.6px;height:2.6px;background:#d3d4dc;border-radius:50%"></div>
<div style="position:absolute;left:1343.0px;top:562.8px;width:2.6px;height:2.6px;background:#d3d4dc;border-radius:50%"></div>
<div style="position:absolute;left:1348.5px;top:553.2px;width:2.6px;height:2.6px;background:#d3d4dc;border-radius:50%"></div>
<div style="position:absolute;left:1348.5px;top:558.0px;width:2.6px;height:2.6px;background:#d3d4dc;border-radius:50%"></div>
<div style="position:absolute;left:1348.5px;top:562.8px;width:2.6px;height:2.6px;background:#d3d4dc;border-radius:50%"></div>
<div class="t" style="left:1365.5px;top:553.30px;font-size:13px;line-height:13px;font-weight:400;color:#4d4e5a;letter-spacing:0.3px;">Comments</div>
<div style="position:absolute;left:1510px;top:551.8px;width:33px;height:15px;background:#48476a;border-radius:8px"></div>
<div style="position:absolute;left:1530.5px;top:554.3px;width:10px;height:10px;background:#fff;border-radius:50%"></div>
<div style="position:absolute;left:1343.0px;top:581.2px;width:2.6px;height:2.6px;background:#d3d4dc;border-radius:50%"></div>
<div style="position:absolute;left:1343.0px;top:586.0px;width:2.6px;height:2.6px;background:#d3d4dc;border-radius:50%"></div>
<div style="position:absolute;left:1343.0px;top:590.8px;width:2.6px;height:2.6px;background:#d3d4dc;border-radius:50%"></div>
<div style="position:absolute;left:1348.5px;top:581.2px;width:2.6px;height:2.6px;background:#d3d4dc;border-radius:50%"></div>
<div style="position:absolute;left:1348.5px;top:586.0px;width:2.6px;height:2.6px;background:#d3d4dc;border-radius:50%"></div>
<div style="position:absolute;left:1348.5px;top:590.8px;width:2.6px;height:2.6px;background:#d3d4dc;border-radius:50%"></div>
<div class="t" style="left:1365.5px;top:581.30px;font-size:13px;line-height:13px;font-weight:400;color:#4d4e5a;letter-spacing:0.3px;">Teamwork</div>
<div style="position:absolute;left:1510px;top:579.8px;width:33px;height:15px;background:#48476a;border-radius:8px"></div>
<div style="position:absolute;left:1530.5px;top:582.3px;width:10px;height:10px;background:#fff;border-radius:50%"></div>
<div style="position:absolute;left:1343.0px;top:609.2px;width:2.6px;height:2.6px;background:#d3d4dc;border-radius:50%"></div>
<div style="position:absolute;left:1343.0px;top:614.0px;width:2.6px;height:2.6px;background:#d3d4dc;border-radius:50%"></div>
<div style="position:absolute;left:1343.0px;top:618.8px;width:2.6px;height:2.6px;background:#d3d4dc;border-radius:50%"></div>
<div style="position:absolute;left:1348.5px;top:609.2px;width:2.6px;height:2.6px;background:#d3d4dc;border-radius:50%"></div>
<div style="position:absolute;left:1348.5px;top:614.0px;width:2.6px;height:2.6px;background:#d3d4dc;border-radius:50%"></div>
<div style="position:absolute;left:1348.5px;top:618.8px;width:2.6px;height:2.6px;background:#d3d4dc;border-radius:50%"></div>
<div class="t" style="left:1365.5px;top:609.30px;font-size:13px;line-height:13px;font-weight:400;color:#4d4e5a;letter-spacing:0.3px;">Build Year</div>
<div style="position:absolute;left:1510px;top:607.8px;width:33px;height:15px;background:#48476a;border-radius:8px"></div>
<div style="position:absolute;left:1530.5px;top:610.3px;width:10px;height:10px;background:#fff;border-radius:50%"></div>
<div style="position:absolute;left:1337px;top:641px;width:206px;height:1px;background:#b9c4dc"></div>
</div>
</body></html>
